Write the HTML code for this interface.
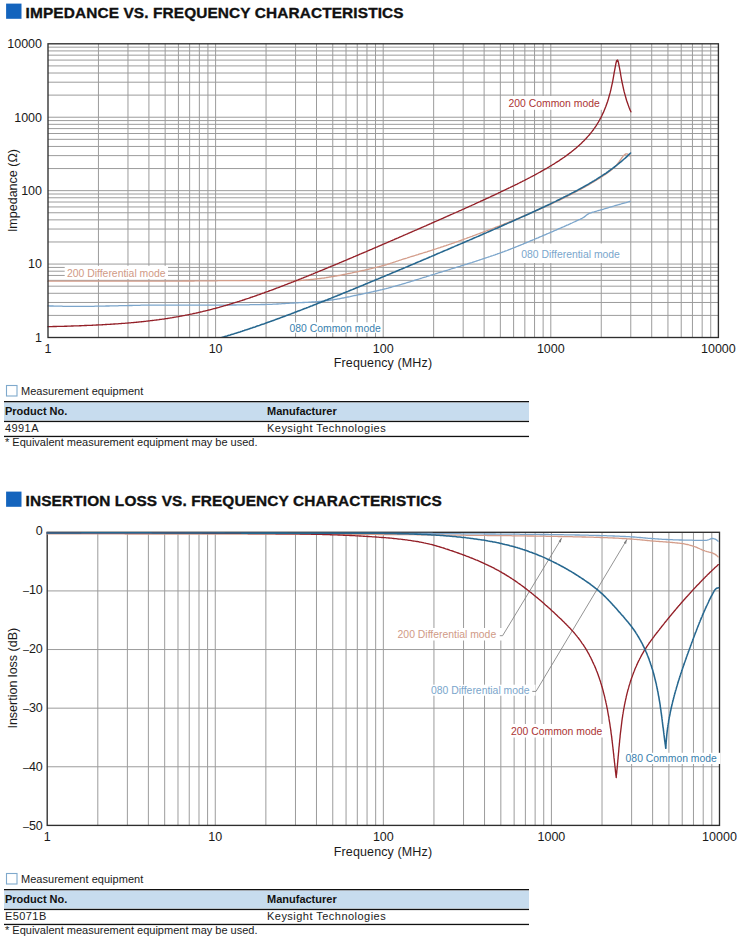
<!DOCTYPE html>
<html><head><meta charset="utf-8"><style>html,body{margin:0;padding:0;background:#fff;width:737px;height:939px;overflow:hidden} svg text{font-family:"Liberation Sans",sans-serif}</style></head>
<body><svg width="737" height="939" viewBox="0 0 737 939" style="position:absolute;left:0;top:0"><rect width="737" height="939" fill="#fff"/><rect x="6.1" y="3.6" width="15.4" height="15.2" fill="#1464bd"/><text x="25.60" y="17.50" font-size="15.4" fill="#111" text-anchor="start" font-weight="bold" stroke="#111" stroke-width="0.35" letter-spacing="0.12">IMPEDANCE VS. FREQUENCY CHARACTERISTICS</text><path d="M98.45,43.8 V337.5 M48.0,315.40 H718.4 M127.97,43.8 V337.5 M48.0,302.47 H718.4 M148.91,43.8 V337.5 M48.0,293.29 H718.4 M165.15,43.8 V337.5 M48.0,286.18 H718.4 M178.42,43.8 V337.5 M48.0,280.36 H718.4 M189.64,43.8 V337.5 M48.0,275.45 H718.4 M199.36,43.8 V337.5 M48.0,271.19 H718.4 M207.93,43.8 V337.5 M48.0,267.43 H718.4 M215.60,43.8 V337.5 M48.0,264.07 H718.4 M266.05,43.8 V337.5 M48.0,241.97 H718.4 M295.57,43.8 V337.5 M48.0,229.04 H718.4 M316.51,43.8 V337.5 M48.0,219.87 H718.4 M332.75,43.8 V337.5 M48.0,212.75 H718.4 M346.02,43.8 V337.5 M48.0,206.94 H718.4 M357.24,43.8 V337.5 M48.0,202.02 H718.4 M366.96,43.8 V337.5 M48.0,197.77 H718.4 M375.53,43.8 V337.5 M48.0,194.01 H718.4 M383.20,43.8 V337.5 M48.0,190.65 H718.4 M433.65,43.8 V337.5 M48.0,168.55 H718.4 M463.17,43.8 V337.5 M48.0,155.62 H718.4 M484.11,43.8 V337.5 M48.0,146.44 H718.4 M500.35,43.8 V337.5 M48.0,139.33 H718.4 M513.62,43.8 V337.5 M48.0,133.51 H718.4 M524.84,43.8 V337.5 M48.0,128.60 H718.4 M534.56,43.8 V337.5 M48.0,124.34 H718.4 M543.13,43.8 V337.5 M48.0,120.58 H718.4 M550.80,43.8 V337.5 M48.0,117.23 H718.4 M601.25,43.8 V337.5 M48.0,95.12 H718.4 M630.77,43.8 V337.5 M48.0,82.19 H718.4 M651.71,43.8 V337.5 M48.0,73.02 H718.4 M667.95,43.8 V337.5 M48.0,65.90 H718.4 M681.22,43.8 V337.5 M48.0,60.09 H718.4 M692.44,43.8 V337.5 M48.0,55.17 H718.4 M702.16,43.8 V337.5 M48.0,50.92 H718.4 M710.73,43.8 V337.5 M48.0,47.16 H718.4" stroke="#9c9c9c" stroke-width="1" fill="none"/><rect x="64.7" y="265.8" width="103.3" height="13.2" fill="#fff"/><rect x="287" y="322.3" width="95" height="10.5" fill="#fff"/><rect x="504" y="96" width="99" height="13.8" fill="#fff"/><rect x="516" y="243.5" width="112" height="19.5" fill="#fff"/><clipPath id="c1"><rect x="48.0" y="43.8" width="670.4" height="293.7"/></clipPath><path d="M48.0,281.2 49.0,281.2 50.0,281.2 51.0,281.2 52.0,281.2 53.0,281.2 54.0,281.2 55.0,281.2 56.0,281.2 57.0,281.2 58.0,281.2 59.0,281.2 60.0,281.2 61.0,281.2 62.0,281.2 63.0,281.2 64.0,281.2 65.0,281.2 66.0,281.2 67.0,281.2 68.0,281.2 69.0,281.2 70.0,281.2 71.0,281.2 72.0,281.2 73.0,281.2 74.0,281.2 75.0,281.2 76.0,281.2 77.0,281.2 78.0,281.2 79.0,281.2 80.0,281.2 81.0,281.2 82.0,281.2 83.0,281.2 84.0,281.2 85.0,281.2 86.0,281.2 87.0,281.2 88.0,281.2 89.0,281.2 90.0,281.2 91.0,281.2 92.0,281.2 93.0,281.2 94.0,281.2 95.0,281.2 96.0,281.2 97.0,281.2 98.0,281.2 99.0,281.2 100.0,281.2 101.0,281.2 102.0,281.2 103.0,281.2 104.0,281.2 105.0,281.2 106.0,281.2 107.0,281.2 108.0,281.2 109.0,281.2 110.0,281.2 111.0,281.2 112.0,281.2 113.0,281.2 114.0,281.2 115.0,281.2 116.0,281.2 117.0,281.2 118.0,281.2 119.0,281.2 120.0,281.2 121.0,281.2 122.0,281.2 123.0,281.2 124.0,281.2 125.0,281.2 126.0,281.2 127.0,281.2 128.0,281.2 129.0,281.2 130.0,281.2 131.0,281.2 132.0,281.2 133.0,281.2 134.0,281.2 135.0,281.2 136.0,281.2 137.0,281.2 138.0,281.2 139.0,281.2 140.0,281.2 141.0,281.2 142.0,281.2 143.0,281.2 144.0,281.2 145.0,281.2 146.0,281.2 147.0,281.2 148.0,281.2 149.0,281.2 150.0,281.2 151.0,281.2 152.0,281.2 153.0,281.2 154.0,281.2 155.0,281.2 156.0,281.2 157.0,281.2 158.0,281.2 159.0,281.2 160.0,281.2 161.0,281.2 162.0,281.2 163.0,281.2 164.0,281.2 165.0,281.2 166.0,281.2 167.0,281.2 168.0,281.1 169.0,281.1 170.0,281.1 171.0,281.1 172.0,281.1 173.0,281.1 174.0,281.1 175.0,281.1 176.0,281.1 177.0,281.1 178.0,281.1 179.0,281.1 180.0,281.1 181.0,281.1 182.0,281.1 183.0,281.0 184.0,281.0 185.0,281.0 186.0,281.0 187.0,281.0 188.0,281.0 189.0,281.0 190.0,281.0 191.0,281.0 192.0,281.0 193.0,281.0 194.0,281.0 195.0,280.9 196.0,280.9 197.0,280.9 198.0,280.9 199.0,280.9 200.0,280.9 201.0,280.9 202.0,280.9 203.0,280.9 204.0,280.9 205.0,280.9 206.0,280.8 207.0,280.8 208.0,280.8 209.0,280.8 210.0,280.8 211.0,280.8 212.0,280.8 213.0,280.8 214.0,280.8 215.0,280.8 216.0,280.8 217.0,280.8 218.0,280.7 219.0,280.7 220.0,280.7 221.0,280.7 222.0,280.7 223.0,280.7 224.0,280.7 225.0,280.7 226.0,280.7 227.0,280.7 228.0,280.7 229.0,280.7 230.0,280.7 231.0,280.7 232.0,280.7 233.0,280.6 234.0,280.6 235.0,280.6 236.0,280.6 237.0,280.6 238.0,280.6 239.0,280.6 240.0,280.6 241.0,280.6 242.0,280.6 243.0,280.6 244.0,280.6 245.0,280.6 246.0,280.6 247.0,280.6 248.0,280.6 249.0,280.6 250.0,280.6 251.0,280.6 252.0,280.6 253.0,280.6 254.0,280.6 255.0,280.6 256.0,280.6 257.0,280.6 258.0,280.6 259.0,280.6 260.0,280.6 261.0,280.7 262.0,280.7 263.0,280.7 264.0,280.7 265.0,280.7 266.0,280.7 267.0,280.7 268.0,280.7 269.0,280.7 270.0,280.8 271.0,280.8 272.0,280.8 273.0,280.8 274.0,280.8 275.0,280.8 276.0,280.8 277.0,280.8 278.0,280.8 279.0,280.8 280.0,280.9 281.0,280.9 282.0,280.9 283.0,280.9 284.0,280.9 285.0,280.9 286.0,280.9 287.0,280.9 288.0,280.9 289.0,280.9 290.0,280.9 291.0,280.9 292.0,280.9 293.0,280.8 294.0,280.8 295.0,280.8 296.0,280.7 297.0,280.7 298.0,280.6 299.0,280.6 300.0,280.5 301.0,280.4 302.0,280.3 303.0,280.3 304.0,280.2 305.0,280.1 306.0,280.0 307.0,279.9 308.0,279.8 309.0,279.7 310.0,279.6 311.0,279.5 312.0,279.4 313.0,279.3 314.0,279.2 315.0,279.1 316.0,279.0 317.0,278.9 318.0,278.7 319.0,278.6 320.0,278.5 321.0,278.4 322.0,278.2 323.0,278.1 324.0,278.0 325.0,277.8 326.0,277.7 327.0,277.5 328.0,277.4 329.0,277.2 330.0,277.0 331.0,276.9 332.0,276.7 333.0,276.5 334.0,276.4 335.0,276.2 336.0,276.0 337.0,275.9 338.0,275.7 339.0,275.5 340.0,275.3 341.0,275.1 342.0,274.9 343.0,274.7 344.0,274.5 345.0,274.3 346.0,274.1 347.0,273.9 348.0,273.7 349.0,273.5 350.0,273.3 351.0,273.1 352.0,272.9 353.0,272.6 354.0,272.4 355.0,272.2 356.0,272.0 357.0,271.8 358.0,271.6 359.0,271.4 360.0,271.1 361.0,270.9 362.0,270.7 363.0,270.5 364.0,270.3 365.0,270.0 366.0,269.8 367.0,269.6 368.0,269.4 369.0,269.1 370.0,268.9 371.0,268.7 372.0,268.4 373.0,268.2 374.0,267.9 375.0,267.7 376.0,267.4 377.0,267.2 378.0,266.9 379.0,266.7 380.0,266.4 381.0,266.2 382.0,265.9 383.0,265.6 384.0,265.3 385.0,265.0 386.0,264.8 387.0,264.5 388.0,264.1 389.0,263.8 390.0,263.5 391.0,263.2 392.0,262.9 393.0,262.5 394.0,262.2 395.0,261.9 396.0,261.5 397.0,261.2 398.0,260.9 399.0,260.5 400.0,260.2 401.0,259.9 402.0,259.5 403.0,259.2 404.0,258.9 405.0,258.6 406.0,258.3 407.0,258.0 408.0,257.6 409.0,257.3 410.0,257.0 411.0,256.7 412.0,256.4 413.0,256.1 414.0,255.8 415.0,255.5 416.0,255.2 417.0,254.9 418.0,254.6 419.0,254.2 420.0,253.9 421.0,253.6 422.0,253.3 423.0,253.0 424.0,252.7 425.0,252.4 426.0,252.1 427.0,251.8 428.0,251.4 429.0,251.1 430.0,250.8 431.0,250.5 432.0,250.2 433.0,249.8 434.0,249.5 435.0,249.2 436.0,248.9 437.0,248.5 438.0,248.2 439.0,247.9 440.0,247.6 441.0,247.2 442.0,246.9 443.0,246.6 444.0,246.2 445.0,245.9 446.0,245.6 447.0,245.2 448.0,244.9 449.0,244.5 450.0,244.2 451.0,243.9 452.0,243.5 453.0,243.2 454.0,242.8 455.0,242.4 456.0,242.1 457.0,241.7 458.0,241.4 459.0,241.0 460.0,240.7 461.0,240.3 462.0,239.9 463.0,239.6 464.0,239.2 465.0,238.8 466.0,238.5 467.0,238.1 468.0,237.7 469.0,237.4 470.0,237.0 471.0,236.6 472.0,236.3 473.0,235.9 474.0,235.5 475.0,235.2 476.0,234.8 477.0,234.4 478.0,234.0 479.0,233.7 480.0,233.3 481.0,232.9 482.0,232.5 483.0,232.2 484.0,231.8 485.0,231.4 486.0,231.0 487.0,230.7 488.0,230.3 489.0,229.9 490.0,229.5 491.0,229.1 492.0,228.8 493.0,228.4 494.0,228.0 495.0,227.6 496.0,227.2 497.0,226.8 498.0,226.4 499.0,226.1 500.0,225.7 501.0,225.3 502.0,224.9 503.0,224.5 504.0,224.1 505.0,223.7 506.0,223.3 507.0,222.9 508.0,222.5 509.0,222.1 510.0,221.7 511.0,221.3 512.0,220.9 513.0,220.5 514.0,220.1 515.0,219.7 516.0,219.3 517.0,218.8 518.0,218.4 519.0,218.0 520.0,217.6 521.0,217.2 522.0,216.7 523.0,216.3 524.0,215.9 525.0,215.5 526.0,215.0 527.0,214.6 528.0,214.2 529.0,213.7 530.0,213.3 531.0,212.9 532.0,212.5 533.0,212.0 534.0,211.6 535.0,211.2 536.0,210.7 537.0,210.3 538.0,209.9 539.0,209.4 540.0,209.0 541.0,208.6 542.0,208.1 543.0,207.7 544.0,207.2 545.0,206.8 546.0,206.3 547.0,205.9 548.0,205.4 549.0,205.0 550.0,204.5 551.0,204.0 552.0,203.6 553.0,203.1 554.0,202.6 555.0,202.2 556.0,201.7 557.0,201.2 558.0,200.7 559.0,200.3 560.0,199.8 561.0,199.3 562.0,198.8 563.0,198.3 564.0,197.8 565.0,197.3 566.0,196.8 567.0,196.3 568.0,195.8 569.0,195.3 570.0,194.8 571.0,194.3 572.0,193.8 573.0,193.3 574.0,192.8 575.0,192.2 576.0,191.7 577.0,191.2 578.0,190.7 579.0,190.1 580.0,189.6 581.0,189.1 582.0,188.5 583.0,188.0 584.0,187.4 585.0,186.9 586.0,186.3 587.0,185.7 588.0,185.2 589.0,184.6 590.0,184.0 591.0,183.4 592.0,182.8 593.0,182.2 594.0,181.6 595.0,181.0 596.0,180.4 597.0,179.8 598.0,179.2 599.0,178.5 600.0,177.9 601.0,177.3 602.0,176.6 603.0,175.9 604.0,175.3 605.0,174.6 606.0,173.9 607.0,173.2 608.0,172.5 609.0,171.8 610.0,171.1 611.0,170.3 612.0,169.5 613.0,168.6 614.0,167.7 615.0,166.7 616.0,165.6 617.0,164.4 618.0,163.1 619.0,161.9 620.0,160.5 621.0,159.1 622.0,157.7 623.0,156.4 624.0,155.2 625.0,154.4 626.0,153.9 627.0,153.8 628.0,154.3 629.0,155.1 630.0,156.1" fill="none" stroke="#d39c89" stroke-width="1.3" stroke-linejoin="round" stroke-linecap="round"/><path d="M48.0,305.9 49.0,305.9 50.0,306.0 51.0,306.0 52.0,306.0 53.0,306.0 54.0,306.1 55.0,306.1 56.0,306.1 57.0,306.1 58.0,306.2 59.0,306.2 60.0,306.2 61.0,306.2 62.0,306.2 63.0,306.3 64.0,306.3 65.0,306.3 66.0,306.3 67.0,306.3 68.0,306.3 69.0,306.3 70.0,306.4 71.0,306.4 72.0,306.4 73.0,306.4 74.0,306.4 75.0,306.4 76.0,306.4 77.0,306.4 78.0,306.4 79.0,306.4 80.0,306.4 81.0,306.4 82.0,306.4 83.0,306.4 84.0,306.4 85.0,306.4 86.0,306.4 87.0,306.4 88.0,306.3 89.0,306.3 90.0,306.3 91.0,306.3 92.0,306.3 93.0,306.3 94.0,306.3 95.0,306.2 96.0,306.2 97.0,306.2 98.0,306.2 99.0,306.2 100.0,306.2 101.0,306.1 102.0,306.1 103.0,306.1 104.0,306.1 105.0,306.1 106.0,306.0 107.0,306.0 108.0,306.0 109.0,306.0 110.0,305.9 111.0,305.9 112.0,305.9 113.0,305.9 114.0,305.9 115.0,305.8 116.0,305.8 117.0,305.8 118.0,305.8 119.0,305.7 120.0,305.7 121.0,305.7 122.0,305.7 123.0,305.7 124.0,305.6 125.0,305.6 126.0,305.6 127.0,305.6 128.0,305.6 129.0,305.5 130.0,305.5 131.0,305.5 132.0,305.5 133.0,305.4 134.0,305.4 135.0,305.4 136.0,305.4 137.0,305.3 138.0,305.3 139.0,305.3 140.0,305.3 141.0,305.2 142.0,305.2 143.0,305.2 144.0,305.2 145.0,305.2 146.0,305.1 147.0,305.1 148.0,305.1 149.0,305.1 150.0,305.1 151.0,305.1 152.0,305.1 153.0,305.1 154.0,305.1 155.0,305.1 156.0,305.1 157.0,305.1 158.0,305.1 159.0,305.1 160.0,305.1 161.0,305.1 162.0,305.1 163.0,305.2 164.0,305.2 165.0,305.2 166.0,305.2 167.0,305.2 168.0,305.2 169.0,305.2 170.0,305.2 171.0,305.2 172.0,305.2 173.0,305.2 174.0,305.2 175.0,305.2 176.0,305.2 177.0,305.2 178.0,305.2 179.0,305.2 180.0,305.2 181.0,305.2 182.0,305.2 183.0,305.2 184.0,305.2 185.0,305.2 186.0,305.2 187.0,305.2 188.0,305.2 189.0,305.2 190.0,305.2 191.0,305.2 192.0,305.2 193.0,305.2 194.0,305.2 195.0,305.2 196.0,305.2 197.0,305.2 198.0,305.2 199.0,305.2 200.0,305.2 201.0,305.2 202.0,305.2 203.0,305.2 204.0,305.2 205.0,305.2 206.0,305.2 207.0,305.2 208.0,305.2 209.0,305.2 210.0,305.2 211.0,305.2 212.0,305.2 213.0,305.2 214.0,305.2 215.0,305.2 216.0,305.2 217.0,305.1 218.0,305.1 219.0,305.1 220.0,305.1 221.0,305.1 222.0,305.1 223.0,305.1 224.0,305.1 225.0,305.1 226.0,305.1 227.0,305.1 228.0,305.1 229.0,305.0 230.0,305.0 231.0,305.0 232.0,305.0 233.0,305.0 234.0,305.0 235.0,305.0 236.0,305.0 237.0,304.9 238.0,304.9 239.0,304.9 240.0,304.9 241.0,304.9 242.0,304.9 243.0,304.9 244.0,304.8 245.0,304.8 246.0,304.8 247.0,304.8 248.0,304.8 249.0,304.8 250.0,304.7 251.0,304.7 252.0,304.7 253.0,304.7 254.0,304.7 255.0,304.7 256.0,304.6 257.0,304.6 258.0,304.6 259.0,304.6 260.0,304.6 261.0,304.5 262.0,304.5 263.0,304.5 264.0,304.5 265.0,304.5 266.0,304.4 267.0,304.4 268.0,304.4 269.0,304.4 270.0,304.3 271.0,304.3 272.0,304.3 273.0,304.2 274.0,304.2 275.0,304.1 276.0,304.1 277.0,304.0 278.0,304.0 279.0,303.9 280.0,303.8 281.0,303.8 282.0,303.7 283.0,303.6 284.0,303.6 285.0,303.5 286.0,303.4 287.0,303.4 288.0,303.3 289.0,303.3 290.0,303.2 291.0,303.1 292.0,303.1 293.0,303.0 294.0,303.0 295.0,302.9 296.0,302.9 297.0,302.8 298.0,302.8 299.0,302.7 300.0,302.7 301.0,302.6 302.0,302.6 303.0,302.5 304.0,302.5 305.0,302.4 306.0,302.4 307.0,302.3 308.0,302.3 309.0,302.2 310.0,302.2 311.0,302.1 312.0,302.0 313.0,302.0 314.0,301.9 315.0,301.8 316.0,301.7 317.0,301.7 318.0,301.6 319.0,301.5 320.0,301.4 321.0,301.3 322.0,301.2 323.0,301.1 324.0,301.0 325.0,300.8 326.0,300.7 327.0,300.6 328.0,300.5 329.0,300.3 330.0,300.2 331.0,300.0 332.0,299.9 333.0,299.8 334.0,299.6 335.0,299.4 336.0,299.3 337.0,299.1 338.0,298.9 339.0,298.8 340.0,298.6 341.0,298.4 342.0,298.2 343.0,298.0 344.0,297.8 345.0,297.6 346.0,297.4 347.0,297.2 348.0,297.0 349.0,296.8 350.0,296.6 351.0,296.3 352.0,296.1 353.0,295.9 354.0,295.7 355.0,295.5 356.0,295.3 357.0,295.1 358.0,294.9 359.0,294.7 360.0,294.5 361.0,294.3 362.0,294.0 363.0,293.8 364.0,293.6 365.0,293.4 366.0,293.2 367.0,293.0 368.0,292.8 369.0,292.5 370.0,292.3 371.0,292.1 372.0,291.9 373.0,291.7 374.0,291.4 375.0,291.2 376.0,291.0 377.0,290.8 378.0,290.5 379.0,290.3 380.0,290.0 381.0,289.8 382.0,289.6 383.0,289.3 384.0,289.1 385.0,288.8 386.0,288.6 387.0,288.3 388.0,288.1 389.0,287.8 390.0,287.5 391.0,287.3 392.0,287.0 393.0,286.7 394.0,286.4 395.0,286.2 396.0,285.9 397.0,285.6 398.0,285.3 399.0,285.0 400.0,284.8 401.0,284.5 402.0,284.2 403.0,283.9 404.0,283.6 405.0,283.3 406.0,283.0 407.0,282.7 408.0,282.4 409.0,282.1 410.0,281.8 411.0,281.5 412.0,281.2 413.0,280.9 414.0,280.6 415.0,280.2 416.0,279.9 417.0,279.6 418.0,279.3 419.0,279.0 420.0,278.7 421.0,278.3 422.0,278.0 423.0,277.7 424.0,277.4 425.0,277.1 426.0,276.8 427.0,276.4 428.0,276.1 429.0,275.8 430.0,275.5 431.0,275.2 432.0,274.9 433.0,274.6 434.0,274.3 435.0,274.0 436.0,273.6 437.0,273.3 438.0,273.0 439.0,272.7 440.0,272.4 441.0,272.1 442.0,271.8 443.0,271.5 444.0,271.2 445.0,270.9 446.0,270.6 447.0,270.3 448.0,270.0 449.0,269.7 450.0,269.3 451.0,269.0 452.0,268.7 453.0,268.4 454.0,268.1 455.0,267.8 456.0,267.5 457.0,267.2 458.0,266.9 459.0,266.6 460.0,266.3 461.0,265.9 462.0,265.6 463.0,265.3 464.0,265.0 465.0,264.7 466.0,264.4 467.0,264.1 468.0,263.7 469.0,263.4 470.0,263.1 471.0,262.8 472.0,262.5 473.0,262.1 474.0,261.8 475.0,261.5 476.0,261.2 477.0,260.8 478.0,260.5 479.0,260.2 480.0,259.8 481.0,259.5 482.0,259.2 483.0,258.8 484.0,258.5 485.0,258.2 486.0,257.8 487.0,257.5 488.0,257.2 489.0,256.8 490.0,256.5 491.0,256.1 492.0,255.8 493.0,255.5 494.0,255.1 495.0,254.8 496.0,254.4 497.0,254.1 498.0,253.7 499.0,253.4 500.0,253.0 501.0,252.7 502.0,252.3 503.0,251.9 504.0,251.6 505.0,251.2 506.0,250.8 507.0,250.5 508.0,250.1 509.0,249.7 510.0,249.3 511.0,248.9 512.0,248.5 513.0,248.1 514.0,247.7 515.0,247.3 516.0,246.9 517.0,246.5 518.0,246.1 519.0,245.7 520.0,245.3 521.0,244.9 522.0,244.5 523.0,244.1 524.0,243.6 525.0,243.2 526.0,242.8 527.0,242.4 528.0,242.0 529.0,241.6 530.0,241.2 531.0,240.7 532.0,240.3 533.0,239.9 534.0,239.5 535.0,239.0 536.0,238.6 537.0,238.2 538.0,237.8 539.0,237.3 540.0,236.9 541.0,236.5 542.0,236.1 543.0,235.6 544.0,235.2 545.0,234.8 546.0,234.4 547.0,233.9 548.0,233.5 549.0,233.1 550.0,232.7 551.0,232.2 552.0,231.8 553.0,231.4 554.0,230.9 555.0,230.5 556.0,230.1 557.0,229.6 558.0,229.2 559.0,228.7 560.0,228.3 561.0,227.9 562.0,227.4 563.0,227.0 564.0,226.6 565.0,226.1 566.0,225.7 567.0,225.2 568.0,224.8 569.0,224.3 570.0,223.9 571.0,223.4 572.0,223.0 573.0,222.5 574.0,222.0 575.0,221.6 576.0,221.1 577.0,220.6 578.0,220.2 579.0,219.7 580.0,219.3 581.0,218.8 582.0,218.3 583.0,217.7 584.0,217.1 585.0,216.4 586.0,215.6 587.0,214.8 588.0,214.1 589.0,213.5 590.0,213.1 591.0,212.8 592.0,212.4 593.0,212.1 594.0,211.9 595.0,211.6 596.0,211.3 597.0,211.0 598.0,210.7 599.0,210.5 600.0,210.2 601.0,209.9 602.0,209.6 603.0,209.3 604.0,209.0 605.0,208.7 606.0,208.4 607.0,208.1 608.0,207.8 609.0,207.5 610.0,207.2 611.0,206.9 612.0,206.6 613.0,206.3 614.0,206.0 615.0,205.7 616.0,205.4 617.0,205.1 618.0,204.8 619.0,204.5 620.0,204.3 621.0,204.0 622.0,203.7 623.0,203.4 624.0,203.1 625.0,202.8 626.0,202.6 627.0,202.3 628.0,202.0 629.0,201.7 630.0,201.5" fill="none" stroke="#7ba5cb" stroke-width="1.3" stroke-linejoin="round" stroke-linecap="round"/><path d="M48.0,326.7 48.8,326.6 49.7,326.6 50.5,326.6 51.3,326.6 52.2,326.6 53.0,326.5 53.8,326.5 54.7,326.5 55.5,326.5 56.3,326.5 57.2,326.4 58.0,326.4 58.8,326.4 59.7,326.4 60.5,326.3 61.3,326.3 62.2,326.3 63.0,326.3 63.8,326.3 64.7,326.2 65.5,326.2 66.3,326.2 67.2,326.2 68.0,326.1 68.8,326.1 69.7,326.1 70.5,326.1 71.3,326.0 72.2,326.0 73.0,326.0 73.9,325.9 74.7,325.9 75.5,325.9 76.4,325.9 77.2,325.8 78.0,325.8 78.9,325.8 79.7,325.7 80.5,325.7 81.4,325.7 82.2,325.6 83.0,325.6 83.9,325.6 84.7,325.5 85.5,325.5 86.4,325.5 87.2,325.4 88.0,325.4 88.9,325.4 89.7,325.3 90.5,325.3 91.4,325.3 92.2,325.2 93.0,325.2 93.9,325.1 94.7,325.1 95.5,325.1 96.4,325.0 97.2,325.0 98.0,324.9 98.9,324.9 99.7,324.9 100.5,324.8 101.4,324.8 102.2,324.7 103.0,324.7 103.9,324.6 104.7,324.6 105.5,324.5 106.4,324.5 107.2,324.4 108.0,324.4 108.9,324.4 109.7,324.3 110.5,324.2 111.4,324.2 112.2,324.1 113.0,324.1 113.9,324.0 114.7,324.0 115.5,323.9 116.4,323.9 117.2,323.8 118.0,323.8 118.9,323.7 119.7,323.6 120.5,323.6 121.4,323.5 122.2,323.4 123.1,323.4 123.9,323.3 124.7,323.3 125.6,323.2 126.4,323.1 127.2,323.1 128.1,323.0 128.9,322.9 129.7,322.8 130.6,322.8 131.4,322.7 132.2,322.6 133.1,322.6 133.9,322.5 134.7,322.4 135.6,322.3 136.4,322.2 137.2,322.2 138.1,322.1 138.9,322.0 139.7,321.9 140.6,321.8 141.4,321.7 142.2,321.7 143.1,321.6 143.9,321.5 144.7,321.4 145.6,321.3 146.4,321.2 147.2,321.1 148.1,321.0 148.9,320.9 149.7,320.8 150.6,320.7 151.4,320.6 152.2,320.5 153.1,320.4 153.9,320.3 154.7,320.2 155.6,320.1 156.4,320.0 157.2,319.9 158.1,319.8 158.9,319.7 159.7,319.5 160.6,319.4 161.4,319.3 162.2,319.2 163.1,319.1 163.9,319.0 164.7,318.8 165.6,318.7 166.4,318.6 167.2,318.5 168.1,318.3 168.9,318.2 169.8,318.1 170.6,317.9 171.4,317.8 172.3,317.7 173.1,317.5 173.9,317.4 174.8,317.2 175.6,317.1 176.4,316.9 177.3,316.8 178.1,316.7 178.9,316.5 179.8,316.4 180.6,316.2 181.4,316.0 182.3,315.9 183.1,315.7 183.9,315.6 184.8,315.4 185.6,315.2 186.4,315.1 187.3,314.9 188.1,314.8 188.9,314.6 189.8,314.4 190.6,314.2 191.4,314.1 192.3,313.9 193.1,313.7 193.9,313.5 194.8,313.3 195.6,313.2 196.4,313.0 197.3,312.8 198.1,312.6 198.9,312.4 199.8,312.2 200.6,312.0 201.4,311.8 202.3,311.6 203.1,311.4 203.9,311.2 204.8,311.0 205.6,310.8 206.4,310.6 207.3,310.4 208.1,310.2 208.9,310.0 209.8,309.8 210.6,309.6 211.4,309.4 212.3,309.1 213.1,308.9 213.9,308.7 214.8,308.5 215.6,308.3 216.4,308.0 217.3,307.8 218.1,307.6 219.0,307.4 219.8,307.1 220.6,306.9 221.5,306.7 222.3,306.4 223.1,306.2 224.0,305.9 224.8,305.7 225.6,305.5 226.5,305.2 227.3,305.0 228.1,304.7 229.0,304.5 229.8,304.2 230.6,304.0 231.5,303.7 232.3,303.5 233.1,303.2 234.0,302.9 234.8,302.7 235.6,302.4 236.5,302.2 237.3,301.9 238.1,301.6 239.0,301.4 239.8,301.1 240.6,300.8 241.5,300.6 242.3,300.3 243.1,300.0 244.0,299.8 244.8,299.5 245.6,299.2 246.5,298.9 247.3,298.6 248.1,298.4 249.0,298.1 249.8,297.8 250.6,297.5 251.5,297.2 252.3,297.0 253.1,296.7 254.0,296.4 254.8,296.1 255.6,295.8 256.5,295.5 257.3,295.2 258.1,294.9 259.0,294.6 259.8,294.3 260.6,294.0 261.5,293.7 262.3,293.4 263.1,293.1 264.0,292.8 264.8,292.5 265.6,292.2 266.5,291.9 267.3,291.6 268.2,291.3 269.0,291.0 269.8,290.7 270.7,290.4 271.5,290.1 272.3,289.8 273.2,289.5 274.0,289.2 274.8,288.8 275.7,288.5 276.5,288.2 277.3,287.9 278.2,287.6 279.0,287.3 279.8,287.0 280.7,286.6 281.5,286.3 282.3,286.0 283.2,285.7 284.0,285.4 284.8,285.0 285.7,284.7 286.5,284.4 287.3,284.1 288.2,283.7 289.0,283.4 289.8,283.1 290.7,282.8 291.5,282.4 292.3,282.1 293.2,281.8 294.0,281.5 294.8,281.1 295.7,280.8 296.5,280.5 297.3,280.1 298.2,279.8 299.0,279.5 299.8,279.1 300.7,278.8 301.5,278.5 302.3,278.1 303.2,277.8 304.0,277.5 304.8,277.1 305.7,276.8 306.5,276.5 307.3,276.1 308.2,275.8 309.0,275.5 309.8,275.1 310.7,274.8 311.5,274.4 312.3,274.1 313.2,273.8 314.0,273.4 314.8,273.1 315.7,272.7 316.5,272.4 317.4,272.1 318.2,271.7 319.0,271.4 319.9,271.0 320.7,270.7 321.5,270.4 322.4,270.0 323.2,269.7 324.0,269.3 324.9,269.0 325.7,268.6 326.5,268.3 327.4,267.9 328.2,267.6 329.0,267.2 329.9,266.9 330.7,266.5 331.5,266.2 332.4,265.9 333.2,265.5 334.0,265.2 334.9,264.8 335.7,264.5 336.5,264.1 337.4,263.8 338.2,263.4 339.0,263.1 339.9,262.7 340.7,262.4 341.5,262.0 342.4,261.7 343.2,261.3 344.0,261.0 344.9,260.6 345.7,260.3 346.5,259.9 347.4,259.6 348.2,259.2 349.0,258.8 349.9,258.5 350.7,258.1 351.5,257.8 352.4,257.4 353.2,257.1 354.0,256.7 354.9,256.4 355.7,256.0 356.5,255.7 357.4,255.3 358.2,255.0 359.0,254.6 359.9,254.2 360.7,253.9 361.5,253.5 362.4,253.2 363.2,252.8 364.1,252.5 364.9,252.1 365.7,251.8 366.6,251.4 367.4,251.0 368.2,250.7 369.1,250.3 369.9,250.0 370.7,249.6 371.6,249.3 372.4,248.9 373.2,248.5 374.1,248.2 374.9,247.8 375.7,247.5 376.6,247.1 377.4,246.8 378.2,246.4 379.1,246.0 379.9,245.7 380.7,245.3 381.6,245.0 382.4,244.6 383.2,244.2 384.1,243.9 384.9,243.5 385.7,243.2 386.6,242.8 387.4,242.4 388.2,242.1 389.1,241.7 389.9,241.4 390.7,241.0 391.6,240.6 392.4,240.3 393.2,239.9 394.1,239.6 394.9,239.2 395.7,238.8 396.6,238.5 397.4,238.1 398.2,237.8 399.1,237.4 399.9,237.0 400.7,236.7 401.6,236.3 402.4,235.9 403.2,235.6 404.1,235.2 404.9,234.9 405.7,234.5 406.6,234.1 407.4,233.8 408.2,233.4 409.1,233.0 409.9,232.7 410.7,232.3 411.6,232.0 412.4,231.6 413.3,231.2 414.1,230.9 414.9,230.5 415.8,230.1 416.6,229.8 417.4,229.4 418.3,229.0 419.1,228.7 419.9,228.3 420.8,228.0 421.6,227.6 422.4,227.2 423.3,226.9 424.1,226.5 424.9,226.1 425.8,225.8 426.6,225.4 427.4,225.0 428.3,224.7 429.1,224.3 429.9,223.9 430.8,223.6 431.6,223.2 432.4,222.8 433.3,222.5 434.1,222.1 434.9,221.7 435.8,221.4 436.6,221.0 437.4,220.6 438.3,220.3 439.1,219.9 439.9,219.5 440.8,219.2 441.6,218.8 442.4,218.4 443.3,218.1 444.1,217.7 444.9,217.3 445.8,216.9 446.6,216.6 447.4,216.2 448.3,215.8 449.1,215.5 449.9,215.1 450.8,214.7 451.6,214.4 452.4,214.0 453.3,213.6 454.1,213.2 454.9,212.9 455.8,212.5 456.6,212.1 457.4,211.8 458.3,211.4 459.1,211.0 459.9,210.6 460.8,210.3 461.6,209.9 462.5,209.5 463.3,209.1 464.1,208.8 465.0,208.4 465.8,208.0 466.6,207.6 467.5,207.3 468.3,206.9 469.1,206.5 470.0,206.1 470.8,205.8 471.6,205.4 472.5,205.0 473.3,204.6 474.1,204.3 475.0,203.9 475.8,203.5 476.6,203.1 477.5,202.7 478.3,202.4 479.1,202.0 480.0,201.6 480.8,201.2 481.6,200.8 482.5,200.5 483.3,200.1 484.1,199.7 485.0,199.3 485.8,198.9 486.6,198.5 487.5,198.2 488.3,197.8 489.1,197.4 490.0,197.0 490.8,196.6 491.6,196.2 492.5,195.8 493.3,195.5 494.1,195.1 495.0,194.7 495.8,194.3 496.6,193.9 497.5,193.5 498.3,193.1 499.1,192.7 500.0,192.3 500.8,191.9 501.6,191.5 502.5,191.1 503.3,190.7 504.1,190.3 505.0,189.9 505.8,189.5 506.6,189.1 507.5,188.7 508.3,188.3 509.1,187.9 510.0,187.5 510.8,187.1 511.7,186.7 512.5,186.3 513.3,185.9 514.2,185.5 515.0,185.1 515.8,184.7 516.7,184.3 517.5,183.9 518.3,183.4 519.2,183.0 520.0,182.6 520.8,182.2 521.7,181.8 522.5,181.3 523.3,180.9 524.2,180.5 525.0,180.1 525.8,179.6 526.7,179.2 527.5,178.8 528.3,178.3 529.2,177.9 530.0,177.5 530.8,177.0 531.7,176.6 532.5,176.2 533.3,175.7 534.2,175.3 535.0,174.8 535.8,174.4 536.7,173.9 537.5,173.5 538.3,173.0 539.2,172.5 540.0,172.1 540.8,171.6 541.7,171.1 542.5,170.7 543.3,170.2 544.2,169.7 545.0,169.3 545.8,168.8 546.7,168.3 547.5,167.8 548.3,167.3 549.2,166.8 550.0,166.3 550.8,165.8 551.7,165.3 552.5,164.8 553.3,164.3 554.2,163.8 555.0,163.2 555.8,162.7 556.7,162.2 557.5,161.6 558.4,161.1 559.2,160.6 560.0,160.0 560.9,159.4 561.7,158.9 562.5,158.3 563.4,157.7 564.2,157.2 565.0,156.6 565.9,156.0 566.7,155.4 567.5,154.8 568.4,154.1 569.2,153.5 570.0,152.9 570.9,152.2 571.7,151.6 572.5,150.9 573.4,150.3 574.2,149.6 575.0,148.9 575.9,148.2 576.7,147.5 577.5,146.8 578.4,146.0 579.2,145.3 580.0,144.5 580.9,143.7 581.7,142.9 582.5,142.1 583.4,141.3 584.2,140.5 585.0,139.6 585.9,138.7 586.7,137.8 587.5,136.9 588.4,135.9 589.2,135.0 590.0,134.0 590.9,132.9 591.7,131.9 592.5,130.8 593.4,129.7 594.2,128.5 595.0,127.3 595.9,126.1 596.7,124.8 597.5,123.5 598.4,122.1 599.2,120.7 600.0,119.2 600.9,117.6 601.7,116.0 602.5,114.2 603.4,112.4 604.2,110.5 605.0,108.5 605.9,106.3 606.7,104.0 607.6,101.5 608.4,98.9 609.2,96.0 610.1,92.9 610.9,89.6 611.7,85.9 612.6,81.8 613.4,77.4 614.2,72.7 615.1,67.9 615.9,63.5 616.7,60.5 617.6,60.0 618.4,62.3 619.2,66.4 620.1,71.2 620.9,76.0 621.7,80.5 622.6,84.6 623.4,88.4 624.2,91.9 625.1,95.1 625.9,98.0 626.7,100.7 627.6,103.3 628.4,105.6 629.2,107.8 630.1,109.9 630.9,111.8" fill="none" stroke="#931f27" stroke-width="1.35" stroke-linejoin="round" stroke-linecap="round"/><path d="M200.0,343.5 201.1,343.2 202.2,343.0 203.2,342.7 204.3,342.4 205.4,342.1 206.5,341.8 207.6,341.5 208.6,341.2 209.7,340.9 210.8,340.6 211.9,340.3 213.0,340.0 214.0,339.7 215.1,339.4 216.2,339.1 217.3,338.8 218.3,338.5 219.4,338.2 220.5,337.9 221.6,337.6 222.7,337.2 223.7,336.9 224.8,336.6 225.9,336.3 227.0,336.0 228.1,335.6 229.1,335.3 230.2,335.0 231.3,334.6 232.4,334.3 233.5,334.0 234.5,333.6 235.6,333.3 236.7,332.9 237.8,332.6 238.9,332.2 239.9,331.9 241.0,331.5 242.1,331.2 243.2,330.8 244.2,330.5 245.3,330.1 246.4,329.8 247.5,329.4 248.6,329.1 249.6,328.7 250.7,328.3 251.8,328.0 252.9,327.6 254.0,327.2 255.0,326.9 256.1,326.5 257.2,326.1 258.3,325.7 259.4,325.4 260.4,325.0 261.5,324.6 262.6,324.2 263.7,323.9 264.8,323.5 265.8,323.1 266.9,322.7 268.0,322.3 269.1,321.9 270.1,321.6 271.2,321.2 272.3,320.8 273.4,320.4 274.5,320.0 275.5,319.6 276.6,319.2 277.7,318.8 278.8,318.4 279.9,318.0 280.9,317.6 282.0,317.2 283.1,316.8 284.2,316.4 285.3,316.0 286.3,315.6 287.4,315.2 288.5,314.8 289.6,314.4 290.7,314.0 291.7,313.6 292.8,313.2 293.9,312.8 295.0,312.3 296.0,311.9 297.1,311.5 298.2,311.1 299.3,310.7 300.4,310.3 301.4,309.9 302.5,309.4 303.6,309.0 304.7,308.6 305.8,308.2 306.8,307.8 307.9,307.4 309.0,306.9 310.1,306.5 311.2,306.1 312.2,305.7 313.3,305.2 314.4,304.8 315.5,304.4 316.6,304.0 317.6,303.5 318.7,303.1 319.8,302.7 320.9,302.3 321.9,301.8 323.0,301.4 324.1,301.0 325.2,300.5 326.3,300.1 327.3,299.7 328.4,299.2 329.5,298.8 330.6,298.4 331.7,297.9 332.7,297.5 333.8,297.1 334.9,296.6 336.0,296.2 337.1,295.8 338.1,295.3 339.2,294.9 340.3,294.5 341.4,294.0 342.5,293.6 343.5,293.1 344.6,292.7 345.7,292.3 346.8,291.8 347.9,291.4 348.9,290.9 350.0,290.5 351.1,290.1 352.2,289.6 353.2,289.2 354.3,288.7 355.4,288.3 356.5,287.8 357.6,287.4 358.6,286.9 359.7,286.5 360.8,286.1 361.9,285.6 363.0,285.2 364.0,284.7 365.1,284.3 366.2,283.8 367.3,283.4 368.4,282.9 369.4,282.5 370.5,282.0 371.6,281.6 372.7,281.1 373.8,280.7 374.8,280.2 375.9,279.8 377.0,279.3 378.1,278.9 379.1,278.4 380.2,278.0 381.3,277.5 382.4,277.1 383.5,276.6 384.5,276.2 385.6,275.7 386.7,275.3 387.8,274.8 388.9,274.4 389.9,273.9 391.0,273.5 392.1,273.0 393.2,272.6 394.3,272.1 395.3,271.7 396.4,271.2 397.5,270.7 398.6,270.3 399.7,269.8 400.7,269.4 401.8,268.9 402.9,268.5 404.0,268.0 405.0,267.6 406.1,267.1 407.2,266.7 408.3,266.2 409.4,265.7 410.4,265.3 411.5,264.8 412.6,264.4 413.7,263.9 414.8,263.5 415.8,263.0 416.9,262.5 418.0,262.1 419.1,261.6 420.2,261.2 421.2,260.7 422.3,260.2 423.4,259.8 424.5,259.3 425.6,258.9 426.6,258.4 427.7,258.0 428.8,257.5 429.9,257.0 430.9,256.6 432.0,256.1 433.1,255.7 434.2,255.2 435.3,254.7 436.3,254.3 437.4,253.8 438.5,253.3 439.6,252.9 440.7,252.4 441.7,252.0 442.8,251.5 443.9,251.0 445.0,250.6 446.1,250.1 447.1,249.7 448.2,249.2 449.3,248.7 450.4,248.3 451.5,247.8 452.5,247.3 453.6,246.9 454.7,246.4 455.8,245.9 456.8,245.5 457.9,245.0 459.0,244.6 460.1,244.1 461.2,243.6 462.2,243.2 463.3,242.7 464.4,242.2 465.5,241.8 466.6,241.3 467.6,240.8 468.7,240.4 469.8,239.9 470.9,239.4 472.0,239.0 473.0,238.5 474.1,238.0 475.2,237.6 476.3,237.1 477.4,236.6 478.4,236.2 479.5,235.7 480.6,235.2 481.7,234.8 482.7,234.3 483.8,233.8 484.9,233.3 486.0,232.9 487.1,232.4 488.1,231.9 489.2,231.5 490.3,231.0 491.4,230.5 492.5,230.0 493.5,229.6 494.6,229.1 495.7,228.6 496.8,228.2 497.9,227.7 498.9,227.2 500.0,226.7 501.1,226.3 502.2,225.8 503.3,225.3 504.3,224.8 505.4,224.3 506.5,223.9 507.6,223.4 508.7,222.9 509.7,222.4 510.8,222.0 511.9,221.5 513.0,221.0 514.0,220.5 515.1,220.0 516.2,219.5 517.3,219.1 518.4,218.6 519.4,218.1 520.5,217.6 521.6,217.1 522.7,216.6 523.8,216.2 524.8,215.7 525.9,215.2 527.0,214.7 528.1,214.2 529.2,213.7 530.2,213.2 531.3,212.7 532.4,212.2 533.5,211.7 534.6,211.2 535.6,210.7 536.7,210.2 537.8,209.7 538.9,209.2 539.9,208.7 541.0,208.2 542.1,207.7 543.2,207.2 544.3,206.7 545.3,206.2 546.4,205.7 547.5,205.2 548.6,204.7 549.7,204.2 550.7,203.7 551.8,203.1 552.9,202.6 554.0,202.1 555.1,201.6 556.1,201.1 557.2,200.5 558.3,200.0 559.4,199.5 560.5,198.9 561.5,198.4 562.6,197.9 563.7,197.3 564.8,196.8 565.8,196.2 566.9,195.7 568.0,195.1 569.1,194.6 570.2,194.0 571.2,193.5 572.3,192.9 573.4,192.4 574.5,191.8 575.6,191.2 576.6,190.7 577.7,190.1 578.8,189.5 579.9,188.9 581.0,188.3 582.0,187.7 583.1,187.1 584.2,186.5 585.3,185.9 586.4,185.3 587.4,184.7 588.5,184.1 589.6,183.4 590.7,182.8 591.7,182.2 592.8,181.5 593.9,180.9 595.0,180.2 596.1,179.6 597.1,178.9 598.2,178.2 599.3,177.5 600.4,176.8 601.5,176.1 602.5,175.4 603.6,174.7 604.7,174.0 605.8,173.3 606.9,172.5 607.9,171.8 609.0,171.0 610.1,170.2 611.2,169.4 612.3,168.7 613.3,167.8 614.4,167.0 615.5,166.2 616.6,165.3 617.6,164.5 618.7,163.6 619.8,162.7 620.9,161.8 622.0,160.9 623.0,160.0 624.1,159.0 625.2,158.1 626.3,157.1 627.4,156.1 628.4,155.1 629.5,154.0 630.6,153.0" fill="none" stroke="#26678f" stroke-width="1.55" stroke-linejoin="round" stroke-linecap="round" clip-path="url(#c1)"/><rect x="48.0" y="43.8" width="670.40" height="293.7" fill="none" stroke="#2e2e2e" stroke-width="1.35"/><text x="67.00" y="277.10" font-size="10.4" fill="#d09a86" text-anchor="start" font-weight="normal" >200 Differential mode</text><text x="289.50" y="331.80" font-size="10.4" fill="#3a7fae" text-anchor="start" font-weight="normal" >080 Common mode</text><text x="508.50" y="106.70" font-size="10.4" fill="#ab3434" text-anchor="start" font-weight="normal" >200 Common mode</text><text x="521.30" y="258.00" font-size="10.4" fill="#7aa6cc" text-anchor="start" font-weight="normal" >080 Differential mode</text><text x="42.00" y="341.80" font-size="12.5" fill="#1a1a1a" text-anchor="end" font-weight="normal" >1</text><text x="48.00" y="352.70" font-size="12.5" fill="#1a1a1a" text-anchor="middle" font-weight="normal" >1</text><text x="42.00" y="268.38" font-size="12.5" fill="#1a1a1a" text-anchor="end" font-weight="normal" >10</text><text x="215.60" y="352.70" font-size="12.5" fill="#1a1a1a" text-anchor="middle" font-weight="normal" >10</text><text x="42.00" y="194.95" font-size="12.5" fill="#1a1a1a" text-anchor="end" font-weight="normal" >100</text><text x="383.20" y="352.70" font-size="12.5" fill="#1a1a1a" text-anchor="middle" font-weight="normal" >100</text><text x="42.00" y="121.53" font-size="12.5" fill="#1a1a1a" text-anchor="end" font-weight="normal" >1000</text><text x="550.80" y="352.70" font-size="12.5" fill="#1a1a1a" text-anchor="middle" font-weight="normal" >1000</text><text x="42.00" y="48.10" font-size="12.5" fill="#1a1a1a" text-anchor="end" font-weight="normal" >10000</text><text x="718.40" y="352.70" font-size="12.5" fill="#1a1a1a" text-anchor="middle" font-weight="normal" >10000</text><text x="383.00" y="367.30" font-size="12.5" fill="#1a1a1a" text-anchor="middle" font-weight="normal" letter-spacing="0.12">Frequency (MHz)</text><text x="0" y="0" font-size="12.5" fill="#1a1a1a" text-anchor="middle" transform="translate(16.9,190.6) rotate(-90)">Impedance (Ω)</text><rect x="6.5" y="385.5" width="10.5" height="10.5" fill="#fff" stroke="#7fa9cc" stroke-width="1.1"/><text x="21.00" y="394.90" font-size="11" fill="#1a1a1a" text-anchor="start" font-weight="normal" letter-spacing="0.03">Measurement equipment</text><rect x="4" y="402.5" width="525" height="18" fill="#c7dcee"/><rect x="4" y="401.0" width="525" height="1.3" fill="#111"/><rect x="4" y="420.8" width="525" height="1.3" fill="#111"/><rect x="4" y="435.8" width="525" height="1.3" fill="#111"/><text x="5.00" y="414.60" font-size="11" fill="#111" text-anchor="start" font-weight="bold" >Product No.</text><text x="267.00" y="414.60" font-size="11" fill="#111" text-anchor="start" font-weight="bold" >Manufacturer</text><text x="5.00" y="432.10" font-size="11" fill="#1a1a1a" text-anchor="start" font-weight="normal" letter-spacing="0.42">4991A</text><text x="267.00" y="432.10" font-size="11" fill="#1a1a1a" text-anchor="start" font-weight="normal" letter-spacing="0.47">Keysight Technologies</text><text x="5.00" y="445.80" font-size="11" fill="#1a1a1a" text-anchor="start" font-weight="normal" letter-spacing="0">* Equivalent measurement equipment may be used.</text><rect x="6.1" y="491.6" width="15.4" height="15.2" fill="#1464bd"/><text x="25.60" y="505.50" font-size="15.4" fill="#111" text-anchor="start" font-weight="bold" stroke="#111" stroke-width="0.35" letter-spacing="0.12">INSERTION LOSS VS. FREQUENCY CHARACTERISTICS</text><path d="M97.80,532.3 V825.4 M127.39,532.3 V825.4 M148.39,532.3 V825.4 M164.68,532.3 V825.4 M177.99,532.3 V825.4 M189.24,532.3 V825.4 M198.99,532.3 V825.4 M207.58,532.3 V825.4 M215.27,532.3 V825.4 M265.87,532.3 V825.4 M295.47,532.3 V825.4 M316.47,532.3 V825.4 M332.75,532.3 V825.4 M346.06,532.3 V825.4 M357.31,532.3 V825.4 M367.06,532.3 V825.4 M375.66,532.3 V825.4 M383.35,532.3 V825.4 M433.95,532.3 V825.4 M463.54,532.3 V825.4 M484.54,532.3 V825.4 M500.83,532.3 V825.4 M514.14,532.3 V825.4 M525.39,532.3 V825.4 M535.14,532.3 V825.4 M543.73,532.3 V825.4 M551.42,532.3 V825.4 M602.02,532.3 V825.4 M631.62,532.3 V825.4 M652.62,532.3 V825.4 M668.90,532.3 V825.4 M682.21,532.3 V825.4 M693.46,532.3 V825.4 M703.21,532.3 V825.4 M711.81,532.3 V825.4 M47.2,590.92 H719.5 M47.2,649.54 H719.5 M47.2,708.16 H719.5 M47.2,766.78 H719.5" stroke="#9c9c9c" stroke-width="1" fill="none"/><rect x="47.2" y="532.3" width="672.30" height="293.10" fill="none" stroke="#2e2e2e" stroke-width="1.35"/><rect x="394" y="628" width="108.5" height="12.5" fill="#fff"/><rect x="428" y="684.7" width="107.5" height="11" fill="#fff"/><rect x="508" y="724" width="96" height="13.5" fill="#fff"/><rect x="622.5" y="752.8" width="98" height="11.2" fill="#fff"/><path d="M499.8,635.7 H502.6 L561.6,538.3 M532.3,691.4 H536 L627,539.4" stroke="#808080" stroke-width="0.85" fill="none"/><path d="M561.5,537.6 L558.6,541.6 L560.9,542.6 Z M626.9,538.9 L623.8,542.8 L626.1,543.9 Z" fill="#808080"/><path d="M47.2,533.9 48.2,533.9 49.2,533.9 50.2,533.9 51.2,533.9 52.2,533.9 53.2,533.9 54.2,533.9 55.2,533.9 56.2,533.9 57.2,533.9 58.2,533.9 59.2,533.9 60.2,533.9 61.2,533.9 62.2,533.9 63.2,533.9 64.2,533.9 65.2,533.9 66.2,533.9 67.2,533.9 68.2,533.9 69.2,533.9 70.2,533.9 71.2,533.9 72.2,533.9 73.2,533.9 74.2,533.9 75.2,533.9 76.2,533.9 77.2,533.9 78.2,533.9 79.2,533.9 80.2,533.9 81.2,533.9 82.2,533.9 83.2,533.9 84.2,533.9 85.2,533.9 86.2,533.9 87.2,533.9 88.2,533.9 89.2,533.9 90.2,533.9 91.2,533.9 92.2,533.9 93.2,533.9 94.2,533.9 95.2,533.9 96.2,533.9 97.2,533.9 98.2,533.9 99.2,533.9 100.2,533.9 101.2,533.9 102.2,533.9 103.2,533.9 104.2,533.9 105.2,533.9 106.2,533.9 107.2,533.9 108.2,533.9 109.2,533.9 110.2,533.9 111.2,533.9 112.2,533.9 113.2,533.9 114.2,533.9 115.2,533.9 116.2,533.9 117.2,533.9 118.2,533.9 119.2,533.9 120.2,533.9 121.2,533.9 122.2,533.9 123.2,533.9 124.2,533.9 125.2,534.0 126.2,534.0 127.2,534.0 128.2,534.0 129.2,534.0 130.2,534.0 131.2,534.0 132.2,534.0 133.2,534.0 134.2,534.0 135.2,534.0 136.2,534.0 137.2,534.0 138.2,534.0 139.2,534.0 140.2,534.0 141.2,534.0 142.2,534.0 143.2,534.0 144.2,534.0 145.2,534.0 146.2,534.0 147.2,534.0 148.2,534.0 149.2,534.0 150.2,534.0 151.2,534.0 152.2,534.0 153.2,534.0 154.2,534.0 155.2,534.0 156.2,534.0 157.2,534.0 158.2,534.0 159.2,534.0 160.2,534.0 161.2,534.0 162.2,534.0 163.2,534.0 164.2,534.0 165.2,534.0 166.2,534.0 167.2,534.0 168.2,534.0 169.2,534.0 170.2,534.0 171.2,534.0 172.2,534.0 173.2,534.0 174.2,534.0 175.2,534.0 176.2,534.0 177.2,534.0 178.2,534.0 179.2,534.0 180.2,534.0 181.2,534.0 182.2,534.0 183.2,534.0 184.2,534.0 185.2,534.0 186.2,534.0 187.2,534.0 188.2,534.0 189.2,534.0 190.2,534.0 191.2,534.0 192.2,534.0 193.2,534.0 194.2,534.0 195.2,534.0 196.2,534.0 197.2,534.0 198.2,534.0 199.2,534.0 200.2,534.0 201.2,534.0 202.2,534.0 203.2,534.0 204.2,534.0 205.2,534.0 206.2,534.0 207.2,534.0 208.2,534.0 209.2,534.0 210.2,534.0 211.2,534.0 212.2,534.0 213.2,534.0 214.2,534.0 215.2,534.0 216.2,534.0 217.2,534.0 218.2,534.0 219.2,534.0 220.2,534.0 221.2,534.0 222.2,534.0 223.2,534.0 224.2,534.0 225.2,534.0 226.2,534.0 227.2,534.0 228.2,534.0 229.2,534.0 230.2,534.0 231.2,534.0 232.2,534.0 233.2,534.0 234.2,534.0 235.2,534.0 236.2,534.0 237.2,534.0 238.2,534.0 239.2,534.0 240.2,534.0 241.2,534.0 242.2,534.0 243.2,534.0 244.2,534.0 245.2,534.0 246.2,534.0 247.2,534.0 248.2,534.0 249.2,534.0 250.2,534.0 251.2,534.0 252.2,534.0 253.2,534.0 254.2,534.0 255.2,534.0 256.2,534.0 257.2,534.0 258.2,534.0 259.2,534.0 260.2,534.0 261.2,534.0 262.2,534.0 263.2,534.0 264.2,534.0 265.2,534.0 266.2,534.0 267.2,534.0 268.2,534.0 269.2,534.0 270.2,534.0 271.2,534.0 272.2,534.0 273.2,534.0 274.2,534.0 275.2,534.0 276.2,534.0 277.2,534.0 278.2,534.0 279.2,534.0 280.2,534.0 281.2,534.0 282.2,534.1 283.2,534.1 284.2,534.1 285.2,534.1 286.2,534.1 287.2,534.1 288.2,534.1 289.2,534.1 290.2,534.1 291.2,534.1 292.2,534.1 293.2,534.1 294.2,534.1 295.2,534.1 296.2,534.1 297.2,534.1 298.2,534.1 299.2,534.1 300.2,534.1 301.2,534.1 302.2,534.1 303.2,534.1 304.2,534.1 305.2,534.1 306.2,534.1 307.2,534.1 308.2,534.1 309.2,534.1 310.2,534.1 311.2,534.1 312.2,534.1 313.2,534.1 314.2,534.1 315.2,534.1 316.2,534.2 317.2,534.2 318.2,534.2 319.2,534.2 320.2,534.2 321.2,534.2 322.2,534.2 323.2,534.2 324.2,534.2 325.2,534.2 326.2,534.2 327.2,534.2 328.2,534.2 329.2,534.2 330.2,534.2 331.2,534.2 332.2,534.2 333.2,534.2 334.2,534.2 335.2,534.2 336.2,534.2 337.2,534.2 338.2,534.2 339.2,534.2 340.2,534.3 341.2,534.3 342.2,534.3 343.2,534.3 344.2,534.3 345.2,534.3 346.2,534.3 347.2,534.3 348.2,534.3 349.2,534.3 350.2,534.3 351.2,534.3 352.2,534.3 353.2,534.3 354.2,534.3 355.2,534.3 356.2,534.3 357.2,534.3 358.2,534.3 359.2,534.3 360.2,534.4 361.2,534.4 362.2,534.4 363.2,534.4 364.2,534.4 365.2,534.4 366.2,534.4 367.2,534.4 368.2,534.4 369.2,534.4 370.2,534.4 371.2,534.4 372.2,534.4 373.2,534.4 374.2,534.4 375.2,534.4 376.2,534.4 377.2,534.4 378.2,534.5 379.2,534.5 380.2,534.5 381.2,534.5 382.2,534.5 383.2,534.5 384.2,534.5 385.2,534.5 386.2,534.5 387.2,534.5 388.2,534.5 389.2,534.5 390.2,534.5 391.2,534.5 392.2,534.5 393.2,534.6 394.2,534.6 395.2,534.6 396.2,534.6 397.2,534.6 398.2,534.6 399.2,534.6 400.2,534.6 401.2,534.6 402.2,534.6 403.2,534.6 404.2,534.6 405.2,534.6 406.2,534.7 407.2,534.7 408.2,534.7 409.2,534.7 410.2,534.7 411.2,534.7 412.2,534.7 413.2,534.7 414.2,534.7 415.2,534.7 416.2,534.7 417.2,534.8 418.2,534.8 419.2,534.8 420.2,534.8 421.2,534.8 422.2,534.8 423.2,534.8 424.2,534.8 425.2,534.8 426.2,534.8 427.2,534.9 428.2,534.9 429.2,534.9 430.2,534.9 431.2,534.9 432.2,534.9 433.2,534.9 434.2,534.9 435.2,534.9 436.2,535.0 437.2,535.0 438.2,535.0 439.2,535.0 440.2,535.0 441.2,535.0 442.2,535.0 443.2,535.0 444.2,535.0 445.2,535.1 446.2,535.1 447.2,535.1 448.2,535.1 449.2,535.1 450.2,535.1 451.2,535.1 452.2,535.1 453.2,535.1 454.2,535.1 455.2,535.2 456.2,535.2 457.2,535.2 458.2,535.2 459.2,535.2 460.2,535.2 461.2,535.2 462.2,535.2 463.2,535.2 464.2,535.2 465.2,535.2 466.2,535.3 467.2,535.3 468.2,535.3 469.2,535.3 470.2,535.3 471.2,535.3 472.2,535.3 473.2,535.3 474.2,535.3 475.2,535.3 476.2,535.3 477.2,535.4 478.2,535.4 479.2,535.4 480.2,535.4 481.2,535.4 482.2,535.4 483.2,535.4 484.2,535.4 485.2,535.4 486.2,535.4 487.2,535.5 488.2,535.5 489.2,535.5 490.2,535.5 491.2,535.5 492.2,535.5 493.2,535.5 494.2,535.5 495.2,535.5 496.2,535.6 497.2,535.6 498.2,535.6 499.2,535.6 500.2,535.6 501.2,535.6 502.2,535.6 503.2,535.6 504.2,535.7 505.2,535.7 506.2,535.7 507.2,535.7 508.2,535.7 509.2,535.7 510.2,535.7 511.2,535.7 512.2,535.8 513.2,535.8 514.2,535.8 515.2,535.8 516.2,535.8 517.2,535.8 518.2,535.8 519.2,535.8 520.2,535.9 521.2,535.9 522.2,535.9 523.2,535.9 524.2,535.9 525.2,535.9 526.2,535.9 527.2,536.0 528.2,536.0 529.2,536.0 530.2,536.0 531.2,536.0 532.2,536.0 533.2,536.0 534.2,536.1 535.2,536.1 536.2,536.1 537.2,536.1 538.2,536.1 539.2,536.1 540.2,536.2 541.2,536.2 542.2,536.2 543.2,536.2 544.2,536.2 545.2,536.2 546.2,536.3 547.2,536.3 548.2,536.3 549.2,536.3 550.2,536.3 551.2,536.3 552.2,536.4 553.2,536.4 554.2,536.4 555.2,536.4 556.2,536.4 557.2,536.4 558.2,536.5 559.2,536.5 560.2,536.5 561.2,536.5 562.2,536.5 563.2,536.6 564.2,536.6 565.2,536.6 566.2,536.6 567.2,536.6 568.2,536.7 569.2,536.7 570.2,536.7 571.2,536.7 572.2,536.7 573.2,536.8 574.2,536.8 575.2,536.8 576.2,536.8 577.2,536.8 578.2,536.9 579.2,536.9 580.2,536.9 581.2,536.9 582.2,537.0 583.2,537.0 584.2,537.0 585.2,537.0 586.2,537.1 587.2,537.1 588.2,537.1 589.2,537.1 590.2,537.2 591.2,537.2 592.2,537.2 593.2,537.2 594.2,537.3 595.2,537.3 596.2,537.3 597.2,537.4 598.2,537.4 599.2,537.4 600.2,537.5 601.2,537.5 602.2,537.5 603.2,537.6 604.2,537.6 605.2,537.6 606.2,537.7 607.2,537.7 608.2,537.8 609.2,537.8 610.2,537.8 611.2,537.9 612.2,537.9 613.2,538.0 614.2,538.0 615.2,538.1 616.2,538.1 617.2,538.2 618.2,538.2 619.2,538.3 620.2,538.3 621.2,538.4 622.2,538.5 623.2,538.5 624.2,538.6 625.2,538.6 626.2,538.7 627.2,538.8 628.2,538.8 629.2,538.9 630.2,539.0 631.2,539.0 632.2,539.1 633.2,539.2 634.2,539.3 635.2,539.4 636.2,539.4 637.2,539.5 638.2,539.6 639.2,539.7 640.2,539.8 641.2,539.9 642.2,540.0 643.2,540.1 644.2,540.2 645.2,540.3 646.2,540.4 647.2,540.5 648.2,540.6 649.2,540.7 650.2,540.8 651.2,540.9 652.2,541.0 653.2,541.1 654.2,541.1 655.2,541.2 656.2,541.3 657.2,541.4 658.2,541.4 659.2,541.5 660.2,541.6 661.2,541.7 662.2,541.7 663.2,541.8 664.2,541.9 665.2,541.9 666.2,542.0 667.2,542.1 668.2,542.2 669.2,542.2 670.2,542.3 671.2,542.4 672.2,542.5 673.2,542.6 674.2,542.7 675.2,542.8 676.2,542.9 677.2,543.0 678.2,543.1 679.2,543.2 680.2,543.3 681.2,543.4 682.2,543.6 683.2,543.7 684.2,543.9 685.2,544.1 686.2,544.3 687.2,544.5 688.2,544.7 689.2,545.0 690.2,545.3 691.2,545.5 692.2,545.8 693.2,546.2 694.2,546.5 695.2,546.8 696.2,547.2 697.2,547.6 698.2,548.1 699.2,548.5 700.2,549.0 701.2,549.4 702.2,549.9 703.2,550.3 704.2,550.6 705.2,551.0 706.2,551.3 707.2,551.6 708.2,551.8 709.2,552.1 710.2,552.3 711.2,552.6 712.2,552.9 713.2,553.3 714.2,553.8 715.2,554.4 716.2,555.1 717.2,556.0 718.2,556.9" fill="none" stroke="#d39c89" stroke-width="1.3" stroke-linejoin="round" stroke-linecap="round"/><path d="M47.2,533.2 48.2,533.2 49.2,533.2 50.2,533.2 51.2,533.2 52.2,533.2 53.2,533.2 54.2,533.2 55.2,533.2 56.2,533.2 57.2,533.2 58.2,533.2 59.2,533.2 60.2,533.2 61.2,533.2 62.2,533.2 63.2,533.2 64.2,533.2 65.2,533.2 66.2,533.2 67.2,533.2 68.2,533.2 69.2,533.2 70.2,533.2 71.2,533.2 72.2,533.2 73.2,533.2 74.2,533.2 75.2,533.2 76.2,533.2 77.2,533.2 78.2,533.2 79.2,533.2 80.2,533.2 81.2,533.2 82.2,533.2 83.2,533.2 84.2,533.2 85.2,533.2 86.2,533.2 87.2,533.2 88.2,533.2 89.2,533.2 90.2,533.2 91.2,533.2 92.2,533.2 93.2,533.2 94.2,533.2 95.2,533.2 96.2,533.2 97.2,533.2 98.2,533.2 99.2,533.2 100.2,533.2 101.2,533.2 102.2,533.2 103.2,533.2 104.2,533.2 105.2,533.2 106.2,533.2 107.2,533.2 108.2,533.2 109.2,533.2 110.2,533.2 111.2,533.2 112.2,533.2 113.2,533.2 114.2,533.2 115.2,533.2 116.2,533.2 117.2,533.2 118.2,533.2 119.2,533.2 120.2,533.2 121.2,533.2 122.2,533.2 123.2,533.2 124.2,533.2 125.2,533.2 126.2,533.2 127.2,533.2 128.2,533.2 129.2,533.2 130.2,533.2 131.2,533.2 132.2,533.2 133.2,533.2 134.2,533.2 135.2,533.2 136.2,533.2 137.2,533.2 138.2,533.2 139.2,533.2 140.2,533.2 141.2,533.2 142.2,533.2 143.2,533.2 144.2,533.2 145.2,533.2 146.2,533.2 147.2,533.2 148.2,533.2 149.2,533.2 150.2,533.2 151.2,533.2 152.2,533.2 153.2,533.2 154.2,533.2 155.2,533.2 156.2,533.2 157.2,533.2 158.2,533.2 159.2,533.2 160.2,533.2 161.2,533.2 162.2,533.2 163.2,533.2 164.2,533.2 165.2,533.2 166.2,533.2 167.2,533.2 168.2,533.2 169.2,533.2 170.2,533.2 171.2,533.2 172.2,533.2 173.2,533.2 174.2,533.2 175.2,533.2 176.2,533.2 177.2,533.2 178.2,533.2 179.2,533.2 180.2,533.2 181.2,533.2 182.2,533.2 183.2,533.2 184.2,533.2 185.2,533.2 186.2,533.2 187.2,533.2 188.2,533.2 189.2,533.2 190.2,533.2 191.2,533.2 192.2,533.2 193.2,533.2 194.2,533.2 195.2,533.2 196.2,533.2 197.2,533.2 198.2,533.2 199.2,533.2 200.2,533.2 201.2,533.2 202.2,533.2 203.2,533.2 204.2,533.2 205.2,533.2 206.2,533.2 207.2,533.2 208.2,533.2 209.2,533.2 210.2,533.2 211.2,533.2 212.2,533.2 213.2,533.2 214.2,533.2 215.2,533.2 216.2,533.2 217.2,533.2 218.2,533.2 219.2,533.2 220.2,533.2 221.2,533.2 222.2,533.2 223.2,533.2 224.2,533.2 225.2,533.3 226.2,533.3 227.2,533.3 228.2,533.3 229.2,533.3 230.2,533.3 231.2,533.3 232.2,533.3 233.2,533.3 234.2,533.3 235.2,533.3 236.2,533.3 237.2,533.3 238.2,533.3 239.2,533.3 240.2,533.3 241.2,533.3 242.2,533.3 243.2,533.3 244.2,533.3 245.2,533.3 246.2,533.3 247.2,533.3 248.2,533.3 249.2,533.3 250.2,533.3 251.2,533.3 252.2,533.3 253.2,533.3 254.2,533.3 255.2,533.3 256.2,533.3 257.2,533.3 258.2,533.3 259.2,533.3 260.2,533.3 261.2,533.3 262.2,533.3 263.2,533.3 264.2,533.3 265.2,533.3 266.2,533.3 267.2,533.3 268.2,533.3 269.2,533.3 270.2,533.3 271.2,533.3 272.2,533.3 273.2,533.3 274.2,533.3 275.2,533.3 276.2,533.3 277.2,533.3 278.2,533.3 279.2,533.3 280.2,533.3 281.2,533.3 282.2,533.3 283.2,533.3 284.2,533.3 285.2,533.3 286.2,533.3 287.2,533.3 288.2,533.3 289.2,533.3 290.2,533.3 291.2,533.3 292.2,533.3 293.2,533.3 294.2,533.3 295.2,533.3 296.2,533.3 297.2,533.3 298.2,533.3 299.2,533.3 300.2,533.3 301.2,533.3 302.2,533.3 303.2,533.3 304.2,533.3 305.2,533.3 306.2,533.3 307.2,533.3 308.2,533.3 309.2,533.3 310.2,533.3 311.2,533.3 312.2,533.3 313.2,533.3 314.2,533.3 315.2,533.3 316.2,533.3 317.2,533.3 318.2,533.3 319.2,533.3 320.2,533.3 321.2,533.3 322.2,533.3 323.2,533.3 324.2,533.3 325.2,533.3 326.2,533.3 327.2,533.3 328.2,533.3 329.2,533.3 330.2,533.3 331.2,533.3 332.2,533.3 333.2,533.3 334.2,533.3 335.2,533.3 336.2,533.4 337.2,533.4 338.2,533.4 339.2,533.4 340.2,533.4 341.2,533.4 342.2,533.4 343.2,533.4 344.2,533.4 345.2,533.4 346.2,533.4 347.2,533.4 348.2,533.4 349.2,533.4 350.2,533.4 351.2,533.4 352.2,533.4 353.2,533.4 354.2,533.4 355.2,533.4 356.2,533.4 357.2,533.4 358.2,533.4 359.2,533.4 360.2,533.4 361.2,533.4 362.2,533.4 363.2,533.4 364.2,533.4 365.2,533.4 366.2,533.4 367.2,533.4 368.2,533.4 369.2,533.4 370.2,533.4 371.2,533.4 372.2,533.4 373.2,533.4 374.2,533.4 375.2,533.4 376.2,533.4 377.2,533.4 378.2,533.4 379.2,533.4 380.2,533.4 381.2,533.4 382.2,533.4 383.2,533.4 384.2,533.4 385.2,533.4 386.2,533.4 387.2,533.4 388.2,533.4 389.2,533.4 390.2,533.4 391.2,533.4 392.2,533.4 393.2,533.4 394.2,533.4 395.2,533.5 396.2,533.5 397.2,533.5 398.2,533.5 399.2,533.5 400.2,533.5 401.2,533.5 402.2,533.5 403.2,533.5 404.2,533.5 405.2,533.5 406.2,533.5 407.2,533.5 408.2,533.5 409.2,533.5 410.2,533.5 411.2,533.5 412.2,533.5 413.2,533.5 414.2,533.5 415.2,533.5 416.2,533.5 417.2,533.5 418.2,533.5 419.2,533.5 420.2,533.5 421.2,533.5 422.2,533.5 423.2,533.5 424.2,533.5 425.2,533.5 426.2,533.5 427.2,533.5 428.2,533.5 429.2,533.5 430.2,533.5 431.2,533.5 432.2,533.5 433.2,533.6 434.2,533.6 435.2,533.6 436.2,533.6 437.2,533.6 438.2,533.6 439.2,533.6 440.2,533.6 441.2,533.6 442.2,533.6 443.2,533.6 444.2,533.6 445.2,533.6 446.2,533.6 447.2,533.6 448.2,533.6 449.2,533.7 450.2,533.7 451.2,533.7 452.2,533.7 453.2,533.7 454.2,533.7 455.2,533.7 456.2,533.7 457.2,533.7 458.2,533.7 459.2,533.7 460.2,533.7 461.2,533.8 462.2,533.8 463.2,533.8 464.2,533.8 465.2,533.8 466.2,533.8 467.2,533.8 468.2,533.8 469.2,533.8 470.2,533.8 471.2,533.8 472.2,533.8 473.2,533.9 474.2,533.9 475.2,533.9 476.2,533.9 477.2,533.9 478.2,533.9 479.2,533.9 480.2,533.9 481.2,533.9 482.2,533.9 483.2,533.9 484.2,534.0 485.2,534.0 486.2,534.0 487.2,534.0 488.2,534.0 489.2,534.0 490.2,534.0 491.2,534.0 492.2,534.0 493.2,534.0 494.2,534.0 495.2,534.0 496.2,534.1 497.2,534.1 498.2,534.1 499.2,534.1 500.2,534.1 501.2,534.1 502.2,534.1 503.2,534.1 504.2,534.1 505.2,534.1 506.2,534.1 507.2,534.1 508.2,534.2 509.2,534.2 510.2,534.2 511.2,534.2 512.2,534.2 513.2,534.2 514.2,534.2 515.2,534.2 516.2,534.2 517.2,534.2 518.2,534.2 519.2,534.2 520.2,534.3 521.2,534.3 522.2,534.3 523.2,534.3 524.2,534.3 525.2,534.3 526.2,534.3 527.2,534.3 528.2,534.3 529.2,534.3 530.2,534.3 531.2,534.4 532.2,534.4 533.2,534.4 534.2,534.4 535.2,534.4 536.2,534.4 537.2,534.4 538.2,534.4 539.2,534.4 540.2,534.5 541.2,534.5 542.2,534.5 543.2,534.5 544.2,534.5 545.2,534.5 546.2,534.5 547.2,534.5 548.2,534.5 549.2,534.6 550.2,534.6 551.2,534.6 552.2,534.6 553.2,534.6 554.2,534.6 555.2,534.6 556.2,534.6 557.2,534.7 558.2,534.7 559.2,534.7 560.2,534.7 561.2,534.7 562.2,534.7 563.2,534.7 564.2,534.8 565.2,534.8 566.2,534.8 567.2,534.8 568.2,534.8 569.2,534.8 570.2,534.9 571.2,534.9 572.2,534.9 573.2,534.9 574.2,534.9 575.2,535.0 576.2,535.0 577.2,535.0 578.2,535.0 579.2,535.0 580.2,535.1 581.2,535.1 582.2,535.1 583.2,535.1 584.2,535.2 585.2,535.2 586.2,535.2 587.2,535.2 588.2,535.2 589.2,535.3 590.2,535.3 591.2,535.3 592.2,535.3 593.2,535.4 594.2,535.4 595.2,535.4 596.2,535.5 597.2,535.5 598.2,535.5 599.2,535.5 600.2,535.6 601.2,535.6 602.2,535.6 603.2,535.7 604.2,535.7 605.2,535.7 606.2,535.7 607.2,535.8 608.2,535.8 609.2,535.8 610.2,535.9 611.2,535.9 612.2,535.9 613.2,536.0 614.2,536.0 615.2,536.1 616.2,536.1 617.2,536.1 618.2,536.2 619.2,536.2 620.2,536.3 621.2,536.3 622.2,536.4 623.2,536.4 624.2,536.5 625.2,536.5 626.2,536.6 627.2,536.6 628.2,536.7 629.2,536.7 630.2,536.8 631.2,536.8 632.2,536.9 633.2,537.0 634.2,537.0 635.2,537.1 636.2,537.2 637.2,537.3 638.2,537.4 639.2,537.5 640.2,537.5 641.2,537.6 642.2,537.7 643.2,537.8 644.2,537.9 645.2,538.0 646.2,538.1 647.2,538.2 648.2,538.3 649.2,538.3 650.2,538.4 651.2,538.5 652.2,538.6 653.2,538.6 654.2,538.7 655.2,538.8 656.2,538.9 657.2,538.9 658.2,539.0 659.2,539.1 660.2,539.1 661.2,539.2 662.2,539.3 663.2,539.3 664.2,539.4 665.2,539.4 666.2,539.5 667.2,539.5 668.2,539.6 669.2,539.6 670.2,539.7 671.2,539.7 672.2,539.7 673.2,539.8 674.2,539.8 675.2,539.8 676.2,539.9 677.2,539.9 678.2,539.9 679.2,540.0 680.2,540.0 681.2,540.0 682.2,540.0 683.2,540.1 684.2,540.1 685.2,540.1 686.2,540.1 687.2,540.1 688.2,540.2 689.2,540.2 690.2,540.2 691.2,540.2 692.2,540.2 693.2,540.3 694.2,540.3 695.2,540.3 696.2,540.3 697.2,540.3 698.2,540.3 699.2,540.3 700.2,540.4 701.2,540.4 702.2,540.4 703.2,540.4 704.2,540.4 705.2,540.4 706.2,540.3 707.2,540.1 708.2,539.8 709.2,539.5 710.2,539.1 711.2,538.7 712.2,538.5 713.2,538.5 714.2,538.8 715.2,539.2 716.2,539.7 717.2,540.4 718.2,541.2" fill="none" stroke="#7ba5cb" stroke-width="1.3" stroke-linejoin="round" stroke-linecap="round"/><path d="M47.2,532.9 48.4,532.9 49.6,532.9 50.7,532.9 51.9,532.9 53.1,532.9 54.3,532.9 55.5,532.9 56.7,532.9 57.8,532.9 59.0,532.9 60.2,532.9 61.4,532.9 62.6,532.9 63.8,532.9 64.9,532.9 66.1,532.9 67.3,532.8 68.5,532.8 69.7,532.8 70.9,532.8 72.0,532.8 73.2,532.8 74.4,532.8 75.6,532.8 76.8,532.8 78.0,532.8 79.1,532.8 80.3,532.8 81.5,532.8 82.7,532.8 83.9,532.8 85.1,532.8 86.2,532.8 87.4,532.8 88.6,532.8 89.8,532.8 91.0,532.8 92.2,532.8 93.3,532.8 94.5,532.8 95.7,532.8 96.9,532.8 98.1,532.8 99.3,532.8 100.4,532.8 101.6,532.8 102.8,532.8 104.0,532.8 105.2,532.8 106.4,532.8 107.5,532.8 108.7,532.8 109.9,532.8 111.1,532.8 112.3,532.8 113.5,532.8 114.6,532.8 115.8,532.8 117.0,532.8 118.2,532.8 119.4,532.8 120.6,532.8 121.7,532.8 122.9,532.8 124.1,532.8 125.3,532.8 126.5,532.8 127.6,532.8 128.8,532.8 130.0,532.8 131.2,532.8 132.4,532.8 133.6,532.8 134.7,532.8 135.9,532.8 137.1,532.8 138.3,532.8 139.5,532.8 140.7,532.9 141.8,532.9 143.0,532.9 144.2,532.9 145.4,532.9 146.6,532.9 147.8,532.9 148.9,532.9 150.1,532.9 151.3,532.9 152.5,532.9 153.7,532.9 154.8,532.9 156.0,532.9 157.2,532.9 158.4,532.9 159.6,532.9 160.8,532.9 161.9,532.9 163.1,532.9 164.3,532.9 165.5,533.0 166.7,533.0 167.9,533.0 169.0,533.0 170.2,533.0 171.4,533.0 172.6,533.0 173.8,533.0 175.0,533.0 176.1,533.0 177.3,533.0 178.5,533.0 179.7,533.0 180.9,533.0 182.0,533.0 183.2,533.0 184.4,533.0 185.6,533.1 186.8,533.1 188.0,533.1 189.1,533.1 190.3,533.1 191.5,533.1 192.7,533.1 193.9,533.1 195.1,533.1 196.2,533.1 197.4,533.1 198.6,533.1 199.8,533.1 201.0,533.1 202.2,533.2 203.3,533.2 204.5,533.2 205.7,533.2 206.9,533.2 208.1,533.2 209.2,533.2 210.4,533.2 211.6,533.2 212.8,533.2 214.0,533.2 215.2,533.2 216.3,533.2 217.5,533.3 218.7,533.3 219.9,533.3 221.1,533.3 222.3,533.3 223.4,533.3 224.6,533.3 225.8,533.3 227.0,533.3 228.2,533.3 229.4,533.3 230.5,533.3 231.7,533.3 232.9,533.4 234.1,533.4 235.3,533.4 236.5,533.4 237.6,533.4 238.8,533.4 240.0,533.4 241.2,533.4 242.4,533.4 243.6,533.4 244.7,533.4 245.9,533.4 247.1,533.4 248.3,533.5 249.5,533.5 250.7,533.5 251.8,533.5 253.0,533.5 254.2,533.5 255.4,533.5 256.6,533.5 257.8,533.5 258.9,533.5 260.1,533.5 261.3,533.5 262.5,533.6 263.7,533.6 264.9,533.6 266.0,533.6 267.2,533.6 268.4,533.6 269.6,533.6 270.8,533.6 272.0,533.6 273.1,533.6 274.3,533.6 275.5,533.7 276.7,533.7 277.9,533.7 279.1,533.7 280.2,533.7 281.4,533.7 282.6,533.7 283.8,533.7 285.0,533.8 286.2,533.8 287.3,533.8 288.5,533.8 289.7,533.8 290.9,533.8 292.1,533.8 293.3,533.9 294.4,533.9 295.6,533.9 296.8,533.9 298.0,533.9 299.2,533.9 300.4,534.0 301.5,534.0 302.7,534.0 303.9,534.0 305.1,534.1 306.3,534.1 307.5,534.1 308.6,534.1 309.8,534.1 311.0,534.2 312.2,534.2 313.4,534.2 314.6,534.3 315.7,534.3 316.9,534.3 318.1,534.3 319.3,534.4 320.5,534.4 321.7,534.4 322.8,534.5 324.0,534.5 325.2,534.5 326.4,534.6 327.6,534.6 328.7,534.6 329.9,534.7 331.1,534.7 332.3,534.8 333.5,534.8 334.7,534.8 335.8,534.9 337.0,534.9 338.2,535.0 339.4,535.0 340.6,535.1 341.8,535.1 342.9,535.2 344.1,535.2 345.3,535.3 346.5,535.3 347.7,535.4 348.8,535.4 350.0,535.5 351.2,535.5 352.4,535.6 353.6,535.6 354.7,535.7 355.9,535.8 357.1,535.8 358.3,535.9 359.5,536.0 360.7,536.0 361.8,536.1 363.0,536.2 364.2,536.2 365.4,536.3 366.6,536.4 367.7,536.5 368.9,536.5 370.1,536.6 371.3,536.7 372.5,536.8 373.6,536.8 374.8,536.9 376.0,537.0 377.2,537.1 378.4,537.2 379.5,537.3 380.7,537.4 381.9,537.5 383.1,537.5 384.3,537.6 385.4,537.7 386.6,537.8 387.8,537.9 389.0,538.0 390.2,538.1 391.3,538.2 392.5,538.4 393.7,538.5 394.9,538.6 396.0,538.7 397.2,538.8 398.4,539.0 399.6,539.1 400.7,539.2 401.9,539.3 403.1,539.5 404.3,539.6 405.4,539.8 406.6,539.9 407.8,540.1 408.9,540.3 410.1,540.4 411.3,540.6 412.4,540.8 413.6,541.0 414.8,541.1 415.9,541.3 417.1,541.5 418.3,541.7 419.4,542.0 420.6,542.2 421.7,542.4 422.9,542.6 424.0,542.9 425.2,543.1 426.3,543.4 427.5,543.6 428.6,543.9 429.8,544.2 430.9,544.4 432.1,544.7 433.2,545.0 434.4,545.3 435.5,545.6 436.7,546.0 437.8,546.3 438.9,546.6 440.1,547.0 441.2,547.3 442.3,547.7 443.5,548.0 444.6,548.4 445.7,548.8 446.8,549.1 448.0,549.5 449.1,549.9 450.2,550.3 451.3,550.6 452.5,551.0 453.6,551.4 454.7,551.8 455.8,552.2 457.0,552.6 458.1,553.0 459.2,553.4 460.3,553.8 461.4,554.2 462.5,554.6 463.6,555.0 464.8,555.4 465.9,555.9 467.0,556.3 468.1,556.7 469.2,557.1 470.3,557.6 471.4,558.0 472.5,558.4 473.6,558.9 474.7,559.3 475.8,559.8 476.9,560.2 478.0,560.7 479.1,561.2 480.1,561.6 481.2,562.1 482.3,562.6 483.4,563.1 484.5,563.6 485.5,564.1 486.6,564.6 487.7,565.1 488.7,565.6 489.8,566.1 490.9,566.6 491.9,567.2 493.0,567.7 494.0,568.2 495.1,568.8 496.1,569.3 497.1,569.9 498.2,570.4 499.2,571.0 500.2,571.6 501.3,572.2 502.3,572.8 503.3,573.3 504.3,573.9 505.3,574.6 506.3,575.2 507.3,575.8 508.3,576.4 509.3,577.0 510.3,577.7 511.3,578.3 512.3,579.0 513.3,579.6 514.3,580.3 515.2,580.9 516.2,581.6 517.2,582.3 518.1,583.0 519.1,583.7 520.1,584.3 521.0,585.0 522.0,585.7 522.9,586.4 523.9,587.1 524.8,587.9 525.8,588.6 526.7,589.3 527.6,590.0 528.6,590.7 529.5,591.5 530.4,592.2 531.4,592.9 532.3,593.7 533.2,594.4 534.1,595.2 535.0,595.9 535.9,596.7 536.8,597.4 537.8,598.2 538.7,599.0 539.6,599.7 540.5,600.5 541.4,601.3 542.2,602.0 543.1,602.8 544.0,603.6 544.9,604.4 545.8,605.2 546.7,605.9 547.6,606.7 548.4,607.5 549.3,608.3 550.2,609.1 551.1,609.9 551.9,610.7 552.8,611.5 553.7,612.3 554.5,613.1 555.4,613.9 556.3,614.7 557.1,615.5 558.0,616.4 558.9,617.2 559.7,618.0 560.6,618.8 561.4,619.6 562.3,620.5 563.1,621.3 564.0,622.1 564.8,623.0 565.7,623.8 566.5,624.7 567.4,625.5 568.2,626.4 569.0,627.2 569.9,628.1 570.7,629.0 571.5,629.9 572.3,630.7 573.1,631.6 573.9,632.5 574.6,633.4 575.4,634.3 576.2,635.3 576.9,636.2 577.6,637.1 578.4,638.0 579.1,639.0 579.8,639.9 580.5,640.9 581.2,641.8 581.8,642.8 582.5,643.8 583.2,644.7 583.8,645.7 584.4,646.7 585.1,647.7 585.7,648.7 586.3,649.7 586.9,650.7 587.5,651.7 588.0,652.7 588.6,653.7 589.2,654.7 589.7,655.8 590.3,656.8 590.8,657.8 591.3,658.9 591.8,659.9 592.3,661.0 592.8,662.1 593.3,663.1 593.8,664.2 594.3,665.2 594.8,666.3 595.2,667.4 595.7,668.5 596.1,669.6 596.5,670.7 597.0,671.8 597.4,672.8 597.8,673.9 598.2,675.1 598.6,676.2 599.0,677.3 599.4,678.4 599.7,679.5 600.1,680.6 600.5,681.7 600.8,682.9 601.2,684.0 601.5,685.1 601.8,686.3 602.2,687.4 602.5,688.5 602.8,689.7 603.1,690.8 603.4,692.0 603.7,693.1 604.0,694.3 604.3,695.4 604.6,696.6 604.9,697.8 605.1,698.9 605.4,700.1 605.7,701.2 605.9,702.4 606.2,703.6 606.4,704.7 606.7,705.9 606.9,707.1 607.1,708.3 607.4,709.4 607.6,710.6 607.8,711.8 608.0,713.0 608.2,714.2 608.4,715.3 608.7,716.5 608.9,717.7 609.0,718.9 609.2,720.1 609.4,721.3 609.6,722.4 609.8,723.6 610.0,724.8 610.1,726.0 610.3,727.2 610.5,728.4 610.7,729.6 610.8,730.7 611.0,731.9 611.1,733.1 611.3,734.3 611.5,735.5 611.6,736.7 611.8,737.9 611.9,739.1 612.0,740.2 612.2,741.4 612.3,742.6 612.5,743.8 612.6,745.0 612.7,746.1 612.9,747.3 613.0,748.5 613.1,749.7 613.3,750.9 613.4,752.0 613.5,753.2 613.7,754.4 613.8,755.6 613.9,756.7 614.0,757.9 614.2,759.1 614.3,760.2 614.4,761.4 614.5,762.5 614.7,763.7 614.8,764.9 614.9,766.0 615.0,767.2 615.2,768.3 615.3,769.5 615.4,770.6 615.5,771.7 615.7,772.9 615.8,774.0 615.9,775.2 616.1,776.3 616.2,777.4 616.2,777.6 616.3,776.8 616.3,776.0 616.4,775.2 616.5,774.4 616.6,773.6 616.7,772.8 616.8,771.9 616.8,771.1 616.9,770.3 617.0,769.5 617.1,768.7 617.2,767.9 617.2,767.1 617.3,766.3 617.4,765.5 617.5,764.7 617.5,763.8 617.6,763.0 617.7,762.2 617.8,761.4 617.8,760.6 617.9,759.8 618.0,759.0 618.1,758.1 618.1,757.3 618.2,756.5 618.3,755.7 618.4,754.9 618.4,754.1 618.5,753.2 618.6,752.4 618.7,751.6 618.7,750.8 618.8,750.0 618.9,749.1 618.9,748.3 619.0,747.5 619.1,746.7 619.2,745.9 619.3,745.0 619.3,744.2 619.4,743.4 619.5,742.6 619.6,741.8 619.6,740.9 619.7,740.1 619.8,739.3 619.9,738.5 620.0,737.6 620.1,736.8 620.1,736.0 620.2,735.2 620.3,734.4 620.4,733.5 620.5,732.7 620.6,731.9 620.7,731.1 620.8,730.3 620.9,729.4 621.0,728.6 621.1,727.8 621.2,727.0 621.3,726.1 621.4,725.3 621.5,724.5 621.6,723.7 621.7,722.9 621.8,722.0 621.9,721.2 622.0,720.4 622.1,719.6 622.2,718.8 622.3,718.0 622.5,717.1 622.6,716.3 622.7,715.5 622.8,714.7 623.0,713.9 623.1,713.1 623.2,712.2 623.4,711.4 623.5,710.6 623.6,709.8 623.8,709.0 623.9,708.2 624.1,707.4 624.2,706.6 624.4,705.8 624.5,704.9 624.7,704.1 624.9,703.3 625.0,702.5 625.2,701.7 625.4,700.9 625.5,700.1 625.7,699.3 625.9,698.5 626.1,697.7 626.2,696.9 626.4,696.1 626.6,695.3 626.8,694.5 627.0,693.7 627.2,692.9 627.4,692.1 627.6,691.3 627.8,690.5 628.0,689.7 628.3,688.9 628.5,688.1 628.7,687.4 628.9,686.6 629.1,685.8 629.4,685.0 629.6,684.2 629.9,683.4 630.1,682.6 630.3,681.9 630.6,681.1 630.9,680.3 631.1,679.5 631.4,678.8 631.6,678.0 631.9,677.2 632.2,676.5 632.5,675.7 632.7,674.9 633.0,674.2 633.3,673.4 633.6,672.6 633.9,671.9 634.2,671.1 634.5,670.4 634.8,669.6 635.1,668.8 635.4,668.1 635.7,667.3 636.1,666.6 636.4,665.9 636.7,665.1 637.1,664.4 637.4,663.6 637.7,662.9 638.1,662.2 638.4,661.4 638.8,660.7 639.2,660.0 639.5,659.2 639.9,658.5 640.3,657.8 640.6,657.1 641.0,656.4 641.4,655.6 641.8,654.9 642.2,654.2 642.6,653.5 643.0,652.8 643.4,652.1 643.8,651.4 644.2,650.7 644.7,650.0 645.1,649.3 645.5,648.6 646.0,648.0 646.4,647.3 646.8,646.6 647.3,645.9 647.7,645.2 648.2,644.6 648.7,643.9 649.1,643.2 649.6,642.5 650.1,641.9 650.6,641.2 651.0,640.5 651.5,639.9 652.0,639.2 652.5,638.6 653.0,637.9 653.5,637.2 654.0,636.6 654.4,635.9 654.9,635.3 655.4,634.6 655.9,634.0 656.4,633.3 656.9,632.7 657.5,632.0 658.0,631.4 658.5,630.7 659.0,630.1 659.5,629.4 660.0,628.8 660.5,628.1 661.0,627.5 661.5,626.8 662.0,626.2 662.5,625.5 663.1,624.9 663.6,624.2 664.1,623.6 664.6,622.9 665.1,622.3 665.6,621.7 666.2,621.0 666.7,620.4 667.2,619.7 667.7,619.1 668.2,618.5 668.8,617.8 669.3,617.2 669.8,616.5 670.3,615.9 670.9,615.3 671.4,614.6 671.9,614.0 672.4,613.4 673.0,612.7 673.5,612.1 674.0,611.5 674.6,610.8 675.1,610.2 675.6,609.6 676.2,608.9 676.7,608.3 677.2,607.7 677.8,607.0 678.3,606.4 678.8,605.8 679.4,605.2 679.9,604.5 680.5,603.9 681.0,603.3 681.5,602.7 682.1,602.1 682.6,601.4 683.2,600.8 683.7,600.2 684.3,599.6 684.8,599.0 685.4,598.3 685.9,597.7 686.5,597.1 687.0,596.5 687.6,595.9 688.1,595.3 688.7,594.7 689.2,594.1 689.8,593.5 690.3,592.8 690.9,592.2 691.4,591.6 692.0,591.0 692.5,590.4 693.1,589.8 693.6,589.2 694.2,588.6 694.8,588.0 695.3,587.4 695.9,586.8 696.4,586.2 697.0,585.6 697.6,585.0 698.1,584.5 698.7,583.9 699.3,583.3 699.8,582.7 700.4,582.1 701.0,581.5 701.5,580.9 702.1,580.3 702.7,579.8 703.2,579.2 703.8,578.6 704.4,578.0 705.0,577.4 705.5,576.8 706.1,576.3 706.7,575.7 707.2,575.1 707.8,574.6 708.4,574.0 709.0,573.4 709.6,572.8 710.1,572.3 710.7,571.7 711.3,571.2 711.9,570.6 712.5,570.0 713.1,569.5 713.6,568.9 714.2,568.4 714.8,567.8 715.4,567.3 716.0,566.8 716.6,566.2 717.2,565.7 717.8,565.1 718.4,564.6" fill="none" stroke="#931f27" stroke-width="1.35" stroke-linejoin="round" stroke-linecap="round"/><path d="M47.2,532.9 48.4,532.9 49.7,532.9 50.9,532.9 52.1,532.9 53.4,532.9 54.6,532.9 55.9,532.9 57.1,532.9 58.3,532.9 59.6,532.9 60.8,532.9 62.0,532.9 63.3,532.9 64.5,532.9 65.7,532.9 67.0,532.9 68.2,532.9 69.5,532.9 70.7,532.9 71.9,532.9 73.2,532.9 74.4,532.9 75.6,532.9 76.9,532.9 78.1,532.9 79.4,532.9 80.6,532.9 81.8,532.8 83.1,532.8 84.3,532.8 85.5,532.8 86.8,532.8 88.0,532.8 89.2,532.8 90.5,532.8 91.7,532.8 93.0,532.8 94.2,532.8 95.4,532.8 96.7,532.8 97.9,532.8 99.1,532.8 100.4,532.8 101.6,532.8 102.9,532.8 104.1,532.8 105.3,532.8 106.6,532.8 107.8,532.8 109.0,532.8 110.3,532.8 111.5,532.8 112.7,532.8 114.0,532.8 115.2,532.8 116.5,532.8 117.7,532.8 118.9,532.8 120.2,532.8 121.4,532.8 122.6,532.8 123.9,532.8 125.1,532.8 126.3,532.8 127.6,532.8 128.8,532.8 130.1,532.8 131.3,532.8 132.5,532.8 133.8,532.8 135.0,532.8 136.2,532.8 137.5,532.8 138.7,532.8 139.9,532.8 141.2,532.8 142.4,532.8 143.6,532.8 144.9,532.8 146.1,532.8 147.4,532.8 148.6,532.8 149.8,532.8 151.1,532.8 152.3,532.9 153.5,532.9 154.8,532.9 156.0,532.9 157.2,532.9 158.5,532.9 159.7,532.9 161.0,532.9 162.2,532.9 163.4,532.9 164.7,532.9 165.9,532.9 167.1,532.9 168.4,532.9 169.6,532.9 170.8,532.9 172.1,532.9 173.3,532.9 174.5,532.9 175.8,532.9 177.0,532.9 178.3,532.9 179.5,532.9 180.7,532.9 182.0,532.9 183.2,532.9 184.4,532.9 185.7,532.9 186.9,532.9 188.1,532.9 189.4,532.9 190.6,532.9 191.9,532.9 193.1,532.9 194.3,532.9 195.6,532.9 196.8,532.9 198.0,532.9 199.3,532.9 200.5,532.9 201.7,533.0 203.0,533.0 204.2,533.0 205.4,533.0 206.7,533.0 207.9,533.0 209.2,533.0 210.4,533.0 211.6,533.0 212.9,533.0 214.1,533.0 215.3,533.0 216.6,533.0 217.8,533.0 219.0,533.0 220.3,533.0 221.5,533.0 222.8,533.0 224.0,533.0 225.2,533.0 226.5,533.0 227.7,533.0 228.9,533.0 230.2,533.0 231.4,533.0 232.6,533.0 233.9,533.0 235.1,533.0 236.3,533.0 237.6,533.0 238.8,533.0 240.1,533.0 241.3,533.1 242.5,533.1 243.8,533.1 245.0,533.1 246.2,533.1 247.5,533.1 248.7,533.1 249.9,533.1 251.2,533.1 252.4,533.1 253.7,533.1 254.9,533.1 256.1,533.1 257.4,533.1 258.6,533.1 259.8,533.1 261.1,533.1 262.3,533.1 263.5,533.1 264.8,533.1 266.0,533.1 267.3,533.1 268.5,533.1 269.7,533.1 271.0,533.1 272.2,533.1 273.4,533.1 274.7,533.1 275.9,533.1 277.1,533.1 278.4,533.1 279.6,533.1 280.9,533.1 282.1,533.1 283.3,533.1 284.6,533.1 285.8,533.1 287.0,533.1 288.3,533.2 289.5,533.2 290.7,533.2 292.0,533.2 293.2,533.2 294.5,533.2 295.7,533.2 296.9,533.2 298.2,533.2 299.4,533.2 300.6,533.2 301.9,533.2 303.1,533.2 304.3,533.2 305.6,533.2 306.8,533.2 308.1,533.2 309.3,533.2 310.5,533.2 311.8,533.2 313.0,533.2 314.2,533.2 315.5,533.2 316.7,533.2 317.9,533.2 319.2,533.2 320.4,533.2 321.7,533.2 322.9,533.2 324.1,533.2 325.4,533.2 326.6,533.2 327.8,533.2 329.1,533.2 330.3,533.2 331.6,533.2 332.8,533.2 334.0,533.2 335.3,533.2 336.5,533.2 337.7,533.2 339.0,533.2 340.2,533.2 341.5,533.2 342.7,533.2 343.9,533.2 345.2,533.2 346.4,533.2 347.6,533.2 348.9,533.2 350.1,533.2 351.4,533.2 352.6,533.2 353.8,533.2 355.1,533.2 356.3,533.2 357.5,533.2 358.8,533.2 360.0,533.2 361.3,533.2 362.5,533.2 363.7,533.2 365.0,533.2 366.2,533.2 367.4,533.2 368.7,533.2 369.9,533.2 371.2,533.2 372.4,533.2 373.6,533.2 374.9,533.3 376.1,533.3 377.3,533.3 378.6,533.3 379.8,533.3 381.0,533.3 382.3,533.3 383.5,533.3 384.8,533.4 386.0,533.4 387.2,533.4 388.5,533.4 389.7,533.4 390.9,533.4 392.2,533.5 393.4,533.5 394.7,533.5 395.9,533.5 397.1,533.6 398.4,533.6 399.6,533.6 400.8,533.6 402.1,533.7 403.3,533.7 404.5,533.7 405.8,533.8 407.0,533.8 408.2,533.8 409.5,533.9 410.7,533.9 412.0,534.0 413.2,534.0 414.4,534.1 415.7,534.1 416.9,534.1 418.1,534.2 419.4,534.2 420.6,534.3 421.8,534.4 423.1,534.4 424.3,534.5 425.5,534.5 426.8,534.6 428.0,534.7 429.2,534.7 430.5,534.8 431.7,534.9 432.9,534.9 434.2,535.0 435.4,535.1 436.6,535.2 437.9,535.2 439.1,535.3 440.3,535.4 441.6,535.5 442.8,535.6 444.0,535.7 445.3,535.8 446.5,535.9 447.7,536.0 449.0,536.1 450.2,536.2 451.4,536.3 452.7,536.4 453.9,536.5 455.1,536.6 456.4,536.7 457.6,536.9 458.8,537.0 460.0,537.1 461.3,537.2 462.5,537.4 463.7,537.5 465.0,537.6 466.2,537.8 467.4,537.9 468.6,538.1 469.9,538.2 471.1,538.4 472.3,538.5 473.5,538.7 474.8,538.9 476.0,539.0 477.2,539.2 478.4,539.4 479.7,539.6 480.9,539.7 482.1,539.9 483.3,540.1 484.5,540.3 485.8,540.5 487.0,540.7 488.2,541.0 489.4,541.2 490.6,541.4 491.8,541.6 493.0,541.9 494.2,542.1 495.5,542.3 496.7,542.6 497.9,542.8 499.1,543.1 500.3,543.4 501.5,543.6 502.7,543.9 503.9,544.2 505.1,544.5 506.3,544.7 507.5,545.0 508.7,545.3 509.9,545.7 511.1,546.0 512.2,546.3 513.4,546.6 514.6,546.9 515.8,547.3 517.0,547.6 518.2,548.0 519.4,548.3 520.5,548.7 521.7,549.1 522.9,549.5 524.1,549.8 525.2,550.2 526.4,550.6 527.6,551.0 528.8,551.5 529.9,551.9 531.1,552.3 532.3,552.7 533.4,553.2 534.6,553.6 535.7,554.1 536.9,554.5 538.0,555.0 539.2,555.5 540.3,555.9 541.5,556.4 542.6,556.9 543.8,557.4 544.9,557.9 546.0,558.4 547.2,559.0 548.3,559.5 549.4,560.0 550.5,560.5 551.7,561.1 552.8,561.6 553.9,562.2 555.0,562.7 556.1,563.3 557.2,563.9 558.3,564.4 559.4,565.0 560.5,565.6 561.6,566.2 562.7,566.8 563.8,567.4 564.9,568.0 566.0,568.6 567.1,569.2 568.1,569.8 569.2,570.5 570.3,571.1 571.3,571.7 572.4,572.4 573.5,573.0 574.5,573.7 575.6,574.3 576.6,575.0 577.7,575.6 578.7,576.3 579.7,577.0 580.8,577.7 581.8,578.3 582.8,579.0 583.8,579.7 584.8,580.4 585.9,581.1 586.9,581.8 587.9,582.5 588.9,583.2 589.9,583.9 590.8,584.7 591.8,585.4 592.8,586.1 593.8,586.9 594.7,587.6 595.7,588.4 596.7,589.1 597.6,589.9 598.5,590.7 599.5,591.5 600.4,592.3 601.3,593.1 602.2,593.9 603.1,594.7 604.0,595.6 604.8,596.4 605.7,597.3 606.6,598.2 607.4,599.0 608.3,599.9 609.1,600.8 610.0,601.7 610.8,602.6 611.7,603.5 612.5,604.4 613.3,605.4 614.2,606.3 615.0,607.2 615.8,608.1 616.7,609.1 617.5,610.0 618.3,610.9 619.1,611.9 620.0,612.8 620.8,613.8 621.6,614.7 622.5,615.6 623.3,616.6 624.1,617.5 624.9,618.5 625.7,619.4 626.6,620.4 627.4,621.4 628.2,622.3 628.9,623.3 629.7,624.3 630.5,625.3 631.3,626.3 632.0,627.2 632.7,628.2 633.5,629.3 634.2,630.3 634.9,631.3 635.6,632.3 636.2,633.3 636.9,634.4 637.5,635.4 638.2,636.5 638.8,637.5 639.4,638.6 640.0,639.7 640.6,640.7 641.2,641.8 641.8,642.9 642.4,644.0 642.9,645.1 643.4,646.2 644.0,647.3 644.5,648.4 645.0,649.5 645.5,650.6 646.0,651.8 646.5,652.9 647.0,654.0 647.4,655.2 647.9,656.3 648.3,657.4 648.8,658.6 649.2,659.7 649.6,660.9 650.0,662.0 650.4,663.2 650.8,664.4 651.2,665.5 651.6,666.7 651.9,667.9 652.3,669.1 652.7,670.3 653.0,671.4 653.3,672.6 653.7,673.8 654.0,675.0 654.3,676.2 654.6,677.4 654.9,678.6 655.2,679.8 655.5,681.0 655.8,682.2 656.1,683.4 656.4,684.6 656.6,685.9 656.9,687.1 657.1,688.3 657.4,689.5 657.6,690.7 657.9,691.9 658.1,693.2 658.3,694.4 658.5,695.6 658.8,696.8 659.0,698.0 659.2,699.3 659.4,700.5 659.6,701.7 659.8,702.9 660.0,704.2 660.2,705.4 660.3,706.6 660.5,707.9 660.7,709.1 660.9,710.3 661.0,711.5 661.2,712.8 661.4,714.0 661.5,715.2 661.7,716.5 661.9,717.7 662.0,718.9 662.2,720.1 662.3,721.4 662.5,722.6 662.6,723.8 662.8,725.1 662.9,726.3 663.1,727.5 663.3,728.7 663.4,730.0 663.6,731.2 663.7,732.4 663.9,733.6 664.0,734.9 664.2,736.1 664.3,737.3 664.5,738.5 664.6,739.8 664.8,741.0 665.0,742.2 665.1,743.4 665.3,744.6 665.5,745.9 665.6,747.1 665.8,748.3 665.8,748.3 665.9,747.8 665.9,747.2 665.9,746.6 665.9,746.0 666.0,745.4 666.0,744.8 666.0,744.2 666.1,743.7 666.1,743.1 666.1,742.5 666.2,741.9 666.2,741.3 666.3,740.8 666.3,740.2 666.4,739.6 666.4,739.0 666.5,738.4 666.5,737.9 666.6,737.3 666.6,736.7 666.7,736.1 666.7,735.6 666.8,735.0 666.8,734.4 666.9,733.8 667.0,733.2 667.0,732.7 667.1,732.1 667.2,731.5 667.2,731.0 667.3,730.4 667.4,729.8 667.5,729.2 667.5,728.7 667.6,728.1 667.7,727.5 667.8,727.0 667.9,726.4 667.9,725.8 668.0,725.2 668.1,724.7 668.2,724.1 668.3,723.5 668.4,723.0 668.5,722.4 668.6,721.8 668.6,721.3 668.7,720.7 668.8,720.1 668.9,719.6 669.0,719.0 669.1,718.5 669.2,717.9 669.3,717.3 669.4,716.8 669.6,716.2 669.7,715.6 669.8,715.1 669.9,714.5 670.0,714.0 670.1,713.4 670.2,712.8 670.3,712.3 670.4,711.7 670.6,711.1 670.7,710.6 670.8,710.0 670.9,709.5 671.0,708.9 671.2,708.4 671.3,707.8 671.4,707.2 671.5,706.7 671.7,706.1 671.8,705.6 671.9,705.0 672.0,704.5 672.2,703.9 672.3,703.3 672.4,702.8 672.6,702.2 672.7,701.7 672.9,701.1 673.0,700.6 673.1,700.0 673.3,699.5 673.4,698.9 673.6,698.4 673.7,697.8 673.8,697.2 674.0,696.7 674.1,696.1 674.3,695.6 674.4,695.0 674.6,694.5 674.7,693.9 674.9,693.4 675.0,692.8 675.2,692.3 675.3,691.7 675.5,691.2 675.6,690.6 675.8,690.1 676.0,689.5 676.1,689.0 676.3,688.4 676.4,687.9 676.6,687.3 676.8,686.8 676.9,686.2 677.1,685.7 677.2,685.1 677.4,684.6 677.6,684.0 677.7,683.5 677.9,682.9 678.1,682.4 678.2,681.8 678.4,681.3 678.6,680.8 678.7,680.2 678.9,679.7 679.1,679.1 679.3,678.6 679.4,678.0 679.6,677.5 679.8,676.9 680.0,676.4 680.1,675.8 680.3,675.3 680.5,674.7 680.7,674.2 680.8,673.6 681.0,673.1 681.2,672.6 681.4,672.0 681.6,671.5 681.7,670.9 681.9,670.4 682.1,669.8 682.3,669.3 682.5,668.7 682.7,668.2 682.8,667.7 683.0,667.1 683.2,666.6 683.4,666.0 683.6,665.5 683.8,664.9 684.0,664.4 684.2,663.8 684.3,663.3 684.5,662.8 684.7,662.2 684.9,661.7 685.1,661.1 685.3,660.6 685.5,660.0 685.7,659.5 685.9,658.9 686.1,658.4 686.3,657.9 686.4,657.3 686.6,656.8 686.8,656.2 687.0,655.7 687.2,655.1 687.4,654.6 687.6,654.1 687.8,653.5 688.0,653.0 688.2,652.4 688.4,651.9 688.6,651.3 688.8,650.8 689.0,650.2 689.2,649.7 689.4,649.2 689.6,648.6 689.8,648.1 690.0,647.5 690.2,647.0 690.4,646.4 690.6,645.9 690.8,645.4 691.0,644.8 691.2,644.3 691.4,643.7 691.6,643.2 691.8,642.6 692.0,642.1 692.2,641.5 692.4,641.0 692.6,640.5 692.8,639.9 693.0,639.4 693.2,638.8 693.4,638.3 693.6,637.7 693.8,637.2 694.0,636.7 694.2,636.1 694.4,635.6 694.6,635.0 694.8,634.5 695.0,633.9 695.2,633.4 695.4,632.9 695.6,632.3 695.9,631.8 696.1,631.2 696.3,630.7 696.5,630.2 696.7,629.6 696.9,629.1 697.1,628.5 697.3,628.0 697.5,627.5 697.7,626.9 698.0,626.4 698.2,625.8 698.4,625.3 698.6,624.8 698.8,624.2 699.0,623.7 699.2,623.2 699.4,622.6 699.7,622.1 699.9,621.6 700.1,621.0 700.3,620.5 700.5,620.0 700.8,619.4 701.0,618.9 701.2,618.4 701.4,617.8 701.6,617.3 701.9,616.8 702.1,616.3 702.3,615.7 702.5,615.2 702.8,614.7 703.0,614.1 703.2,613.6 703.4,613.1 703.7,612.6 703.9,612.0 704.1,611.5 704.3,611.0 704.6,610.5 704.8,610.0 705.0,609.4 705.3,608.9 705.5,608.4 705.7,607.9 706.0,607.4 706.2,606.9 706.4,606.3 706.7,605.8 706.9,605.3 707.2,604.8 707.4,604.3 707.6,603.8 707.9,603.3 708.1,602.8 708.4,602.3 708.6,601.8 708.8,601.2 709.1,600.7 709.3,600.2 709.6,599.7 709.8,599.2 710.1,598.7 710.3,598.2 710.6,597.7 710.8,597.2 711.1,596.7 711.3,596.2 711.6,595.8 711.8,595.3 712.1,594.8 712.4,594.3 712.6,593.8 712.9,593.3 713.1,592.8 713.4,592.3 713.7,591.8 713.9,591.4 714.2,590.9 714.5,590.4 714.8,590.0 715.1,589.6 715.5,589.2 715.9,588.8 716.3,588.5 716.8,588.2 717.3,588.0 717.9,587.9 718.6,587.8" fill="none" stroke="#26678f" stroke-width="1.55" stroke-linejoin="round" stroke-linecap="round"/><text x="397.60" y="638.30" font-size="10.4" fill="#d09a86" text-anchor="start" font-weight="normal" >200 Differential mode</text><text x="431.00" y="694.40" font-size="10.4" fill="#7aa6cc" text-anchor="start" font-weight="normal" >080 Differential mode</text><text x="511.00" y="735.20" font-size="10.4" fill="#ab3434" text-anchor="start" font-weight="normal" >200 Common mode</text><text x="625.60" y="761.80" font-size="10.4" fill="#3a7fae" text-anchor="start" font-weight="normal" >080 Common mode</text><text x="42.80" y="535.00" font-size="12.5" fill="#1a1a1a" text-anchor="end" font-weight="normal" >0</text><text x="42.80" y="594.20" font-size="12.5" fill="#1a1a1a" text-anchor="end" font-weight="normal" ><tspan font-size="10.8" dy="-0.3">–</tspan><tspan dy="0.3">10</tspan></text><text x="42.80" y="653.10" font-size="12.5" fill="#1a1a1a" text-anchor="end" font-weight="normal" ><tspan font-size="10.8" dy="-0.3">–</tspan><tspan dy="0.3">20</tspan></text><text x="42.80" y="712.20" font-size="12.5" fill="#1a1a1a" text-anchor="end" font-weight="normal" ><tspan font-size="10.8" dy="-0.3">–</tspan><tspan dy="0.3">30</tspan></text><text x="42.80" y="771.20" font-size="12.5" fill="#1a1a1a" text-anchor="end" font-weight="normal" ><tspan font-size="10.8" dy="-0.3">–</tspan><tspan dy="0.3">40</tspan></text><text x="42.80" y="829.90" font-size="12.5" fill="#1a1a1a" text-anchor="end" font-weight="normal" ><tspan font-size="10.8" dy="-0.3">–</tspan><tspan dy="0.3">50</tspan></text><text x="47.20" y="840.70" font-size="12.5" fill="#1a1a1a" text-anchor="middle" font-weight="normal" >1</text><text x="215.27" y="840.70" font-size="12.5" fill="#1a1a1a" text-anchor="middle" font-weight="normal" >10</text><text x="383.35" y="840.70" font-size="12.5" fill="#1a1a1a" text-anchor="middle" font-weight="normal" >100</text><text x="551.42" y="840.70" font-size="12.5" fill="#1a1a1a" text-anchor="middle" font-weight="normal" >1000</text><text x="719.50" y="840.70" font-size="12.5" fill="#1a1a1a" text-anchor="middle" font-weight="normal" >10000</text><text x="383.00" y="855.90" font-size="12.5" fill="#1a1a1a" text-anchor="middle" font-weight="normal" letter-spacing="0.12">Frequency (MHz)</text><text x="0" y="0" font-size="12.5" fill="#1a1a1a" text-anchor="middle" transform="translate(16.8,678.2) rotate(-90)">Insertion loss (dB)</text><rect x="6.5" y="873.5" width="10.5" height="10.5" fill="#fff" stroke="#7fa9cc" stroke-width="1.1"/><text x="21.00" y="882.90" font-size="11" fill="#1a1a1a" text-anchor="start" font-weight="normal" letter-spacing="0.03">Measurement equipment</text><rect x="4" y="890.5" width="525" height="18" fill="#c7dcee"/><rect x="4" y="889.0" width="525" height="1.3" fill="#111"/><rect x="4" y="908.8" width="525" height="1.3" fill="#111"/><rect x="4" y="923.8" width="525" height="1.3" fill="#111"/><text x="5.00" y="902.60" font-size="11" fill="#111" text-anchor="start" font-weight="bold" >Product No.</text><text x="267.00" y="902.60" font-size="11" fill="#111" text-anchor="start" font-weight="bold" >Manufacturer</text><text x="5.00" y="920.10" font-size="11" fill="#1a1a1a" text-anchor="start" font-weight="normal" letter-spacing="0.42">E5071B</text><text x="267.00" y="920.10" font-size="11" fill="#1a1a1a" text-anchor="start" font-weight="normal" letter-spacing="0.47">Keysight Technologies</text><text x="5.00" y="933.80" font-size="11" fill="#1a1a1a" text-anchor="start" font-weight="normal" letter-spacing="0">* Equivalent measurement equipment may be used.</text></svg></body></html>
